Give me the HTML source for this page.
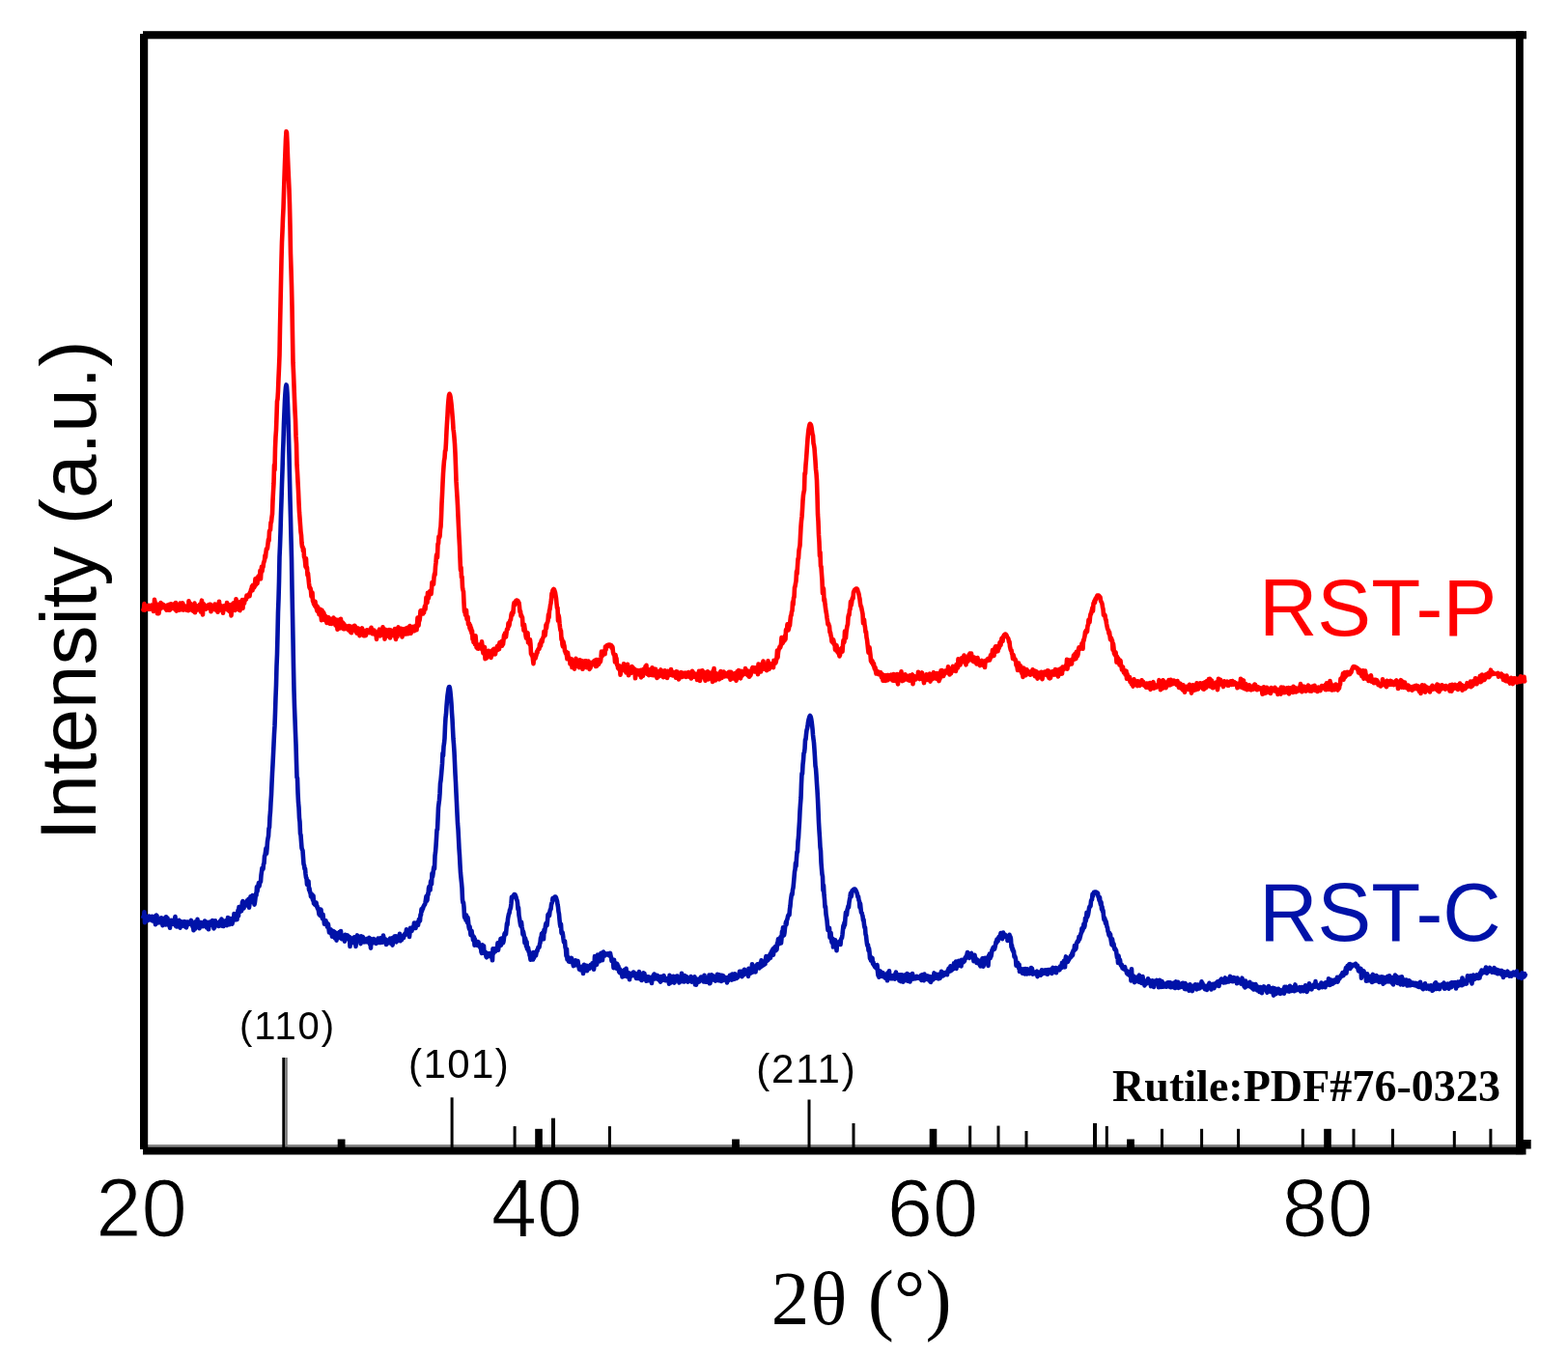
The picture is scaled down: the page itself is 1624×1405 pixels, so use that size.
<!DOCTYPE html>
<html><head><meta charset="utf-8"><title>XRD</title>
<style>html,body{margin:0;padding:0;background:#fff;width:1624px;height:1405px;overflow:hidden}svg{display:block}</style>
</head><body>
<svg width="1624" height="1405" viewBox="0 0 1624 1405">
<rect width="1624" height="1405" fill="#fff"/>
<rect x="148" y="1185" width="1432" height="2.6" fill="#888"/>
<rect x="292.3" y="1095.0" width="3.1" height="93.0" fill="#000"/>
<rect x="466.6" y="1136.3" width="3.0" height="51.7" fill="#000"/>
<rect x="531.6" y="1166.1" width="3.0" height="21.9" fill="#000"/>
<rect x="571.0" y="1157.7" width="4.0" height="30.3" fill="#000"/>
<rect x="629.9" y="1166.1" width="3.0" height="21.9" fill="#000"/>
<rect x="836.5" y="1138.5" width="3.0" height="49.5" fill="#000"/>
<rect x="882.5" y="1163.0" width="3.0" height="25.0" fill="#000"/>
<rect x="1003.2" y="1165.6" width="3.0" height="22.4" fill="#000"/>
<rect x="1032.5" y="1165.6" width="3.0" height="22.4" fill="#000"/>
<rect x="1061.5" y="1171.0" width="3.0" height="17.0" fill="#000"/>
<rect x="1132.0" y="1162.9" width="4.0" height="25.1" fill="#000"/>
<rect x="1144.8" y="1165.9" width="3.0" height="22.1" fill="#000"/>
<rect x="1202.0" y="1168.8" width="3.0" height="19.2" fill="#000"/>
<rect x="1243.1" y="1168.8" width="3.0" height="19.2" fill="#000"/>
<rect x="1281.1" y="1168.8" width="3.0" height="19.2" fill="#000"/>
<rect x="1347.8" y="1168.8" width="3.0" height="19.2" fill="#000"/>
<rect x="1400.5" y="1168.8" width="3.0" height="19.2" fill="#000"/>
<rect x="1440.9" y="1168.8" width="3.0" height="19.2" fill="#000"/>
<rect x="1504.8" y="1171.0" width="3.0" height="17.0" fill="#000"/>
<rect x="1542.4" y="1168.8" width="3.0" height="19.2" fill="#000"/>
<rect x="554.2" y="1168.8" width="7.6" height="20" fill="#000"/>
<rect x="962.7" y="1168.8" width="7.6" height="20" fill="#000"/>
<rect x="1371.2" y="1168.8" width="7.6" height="20" fill="#000"/>
<rect x="349.7" y="1179.5" width="7.8" height="9" fill="#000"/>
<rect x="758.1" y="1179.5" width="7.8" height="9" fill="#000"/>
<rect x="1167.1" y="1179.5" width="7.8" height="9" fill="#000"/>
<rect x="295.4" y="1095" width="2.4" height="93" fill="#7a7a7a"/>
<rect x="1577" y="1180" width="8.7" height="9.5" fill="#000"/>
<rect x="145" y="35" width="8.2" height="1155" fill="#000"/>
<rect x="148" y="32.2" width="1433" height="8.1" fill="#000"/>
<rect x="1570" y="32.2" width="7.8" height="1163" fill="#000"/>
<rect x="148" y="1187.5" width="1432.5" height="8" fill="#000"/>
<path d="M148.0 630.0L148.5 631.5L149.0 630.0L149.5 625.1L150.0 631.7L150.5 630.3L151.0 627.4L151.5 630.7L152.0 630.1L152.5 629.9L153.0 629.1L153.5 630.6L154.0 626.8L154.5 628.5L155.0 627.6L155.5 630.8L156.0 629.1L156.5 628.1L157.0 626.7L157.5 628.2L158.0 629.0L158.5 628.2L159.0 632.9L159.5 632.0L160.0 620.9L160.5 623.3L161.0 628.5L161.5 627.7L162.0 629.6L162.5 629.6L163.0 635.3L163.5 625.7L164.0 627.9L164.5 635.1L165.0 630.9L165.5 631.0L166.0 627.5L166.5 624.1L167.0 629.5L167.5 629.3L168.0 625.3L168.5 627.0L169.0 628.8L169.5 626.2L170.0 628.7L170.5 629.3L171.0 629.1L171.5 627.5L172.0 630.8L172.5 631.7L173.0 630.0L173.5 626.6L174.0 631.2L174.5 627.5L175.0 631.6L175.5 625.8L176.0 631.7L176.5 628.9L177.0 625.3L177.5 628.1L178.0 629.2L178.5 629.8L179.0 626.1L179.5 625.7L180.0 629.6L180.5 627.6L181.0 629.7L181.5 631.3L182.0 624.1L182.5 629.8L183.0 632.6L183.5 628.1L184.0 626.6L184.5 631.2L185.0 629.8L185.5 631.7L186.0 628.0L186.5 624.6L187.0 628.7L187.5 627.7L188.0 631.3L188.5 629.6L189.0 624.2L189.5 625.4L190.0 631.6L190.5 631.0L191.0 627.1L191.5 629.0L192.0 630.3L192.5 630.4L193.0 631.6L193.5 629.8L194.0 628.7L194.5 628.2L195.0 632.1L195.5 622.3L196.0 628.6L196.5 629.1L197.0 624.8L197.5 630.0L198.0 627.1L198.5 631.6L199.0 628.6L199.5 631.0L200.0 632.6L200.5 630.1L201.0 626.4L201.5 624.5L202.0 634.2L202.5 628.7L203.0 627.0L203.5 629.4L204.0 628.4L204.5 631.5L205.0 629.1L205.5 629.0L206.0 626.9L206.5 630.4L207.0 625.9L207.5 631.0L208.0 633.5L208.5 624.5L209.0 621.7L209.5 630.8L210.0 636.5L210.5 626.0L211.0 625.3L211.5 630.7L212.0 626.5L212.5 627.5L213.0 628.0L213.5 630.6L214.0 627.8L214.5 629.8L215.0 628.5L215.5 626.5L216.0 628.1L216.5 626.2L217.0 629.0L217.5 625.7L218.0 625.8L218.5 633.3L219.0 628.8L219.5 628.8L220.0 630.5L220.5 627.8L221.0 628.3L221.5 630.3L222.0 629.8L222.5 625.6L223.0 631.5L223.5 627.3L224.0 625.9L224.5 626.3L225.0 627.8L225.5 633.8L226.0 625.5L226.5 629.5L227.0 622.7L227.5 629.0L228.0 631.6L228.5 628.3L229.0 627.1L229.5 629.7L230.0 631.1L230.5 631.0L231.0 634.8L231.5 629.6L232.0 627.3L232.5 628.6L233.0 628.8L233.5 629.3L234.0 628.9L234.5 629.5L235.0 624.1L235.5 631.4L236.0 627.3L236.5 625.6L237.0 630.9L237.5 632.9L238.0 630.4L238.5 629.5L239.0 626.3L239.5 637.4L240.0 631.6L240.5 625.6L241.0 626.7L241.5 629.1L242.0 624.3L242.5 629.2L243.0 627.2L243.5 632.0L244.0 631.1L244.5 620.2L245.0 628.0L245.5 623.0L246.0 630.7L246.5 627.8L247.0 628.6L247.5 623.6L248.0 631.8L248.5 632.1L249.0 622.8L249.5 626.7L250.0 623.3L250.5 624.9L251.0 621.0L251.5 629.8L252.0 621.2L252.5 622.8L253.0 624.7L253.5 620.8L254.0 621.4L254.5 619.8L255.0 620.4L255.5 616.6L256.0 618.0L256.5 617.9L257.0 616.7L257.5 617.0L258.0 615.1L258.5 617.2L259.0 613.2L259.5 612.9L260.0 610.4L260.5 610.0L261.0 607.0L261.5 611.3L262.0 605.7L262.5 606.0L263.0 608.5L263.5 607.9L264.0 604.8L264.5 599.3L265.0 605.6L265.5 604.4L266.0 598.6L266.5 604.1L267.0 598.9L267.5 596.7L268.0 599.3L268.5 597.4L269.0 597.3L269.5 590.8L270.0 599.4L270.5 591.0L271.0 586.8L271.5 591.5L272.0 587.0L272.5 587.1L273.0 583.0L273.5 581.5L274.0 580.1L274.5 575.0L275.0 577.0L275.5 571.6L276.0 568.2L276.5 568.7L277.0 567.4L277.5 562.9L278.0 558.5L278.5 560.0L279.0 550.1L279.5 549.0L280.0 548.6L280.5 540.8L281.0 540.6L281.5 535.5L282.0 532.3L282.5 518.6L283.0 509.0L283.5 500.5L284.0 481.6L284.5 486.6L285.0 464.1L285.5 452.3L286.0 445.3L286.5 431.3L287.0 415.6L287.5 413.3L288.0 405.1L288.5 391.7L289.0 380.6L289.5 367.9L290.0 339.2L290.5 316.2L291.0 292.6L291.5 269.3L292.0 250.6L292.5 239.3L293.0 225.8L293.5 215.9L294.0 199.8L294.5 184.6L295.0 170.1L295.5 156.8L296.0 143.9L296.5 136.1L297.0 137.5L297.5 148.0L298.0 162.1L298.5 174.4L299.0 184.9L299.5 196.3L300.0 211.9L300.5 234.3L301.0 262.8L301.5 278.2L302.0 295.4L302.5 317.4L303.0 347.9L303.5 375.7L304.0 386.4L304.5 399.4L305.0 412.6L305.5 425.1L306.0 434.2L306.5 451.4L307.0 459.7L307.5 481.2L308.0 489.1L308.5 498.8L309.0 508.5L309.5 520.2L310.0 530.3L310.5 536.4L311.0 543.3L311.5 550.6L312.0 554.0L312.5 562.1L313.0 566.1L313.5 566.1L314.0 570.6L314.5 568.3L315.0 576.7L315.5 577.3L316.0 581.2L316.5 586.9L317.0 578.3L317.5 588.5L318.0 587.6L318.5 595.6L319.0 593.4L319.5 598.9L320.0 604.0L320.5 608.1L321.0 609.2L321.5 609.0L322.0 611.7L322.5 617.6L323.0 616.8L323.5 613.6L324.0 622.4L324.5 622.6L325.0 625.2L325.5 622.9L326.0 627.3L326.5 622.9L327.0 628.6L327.5 626.5L328.0 630.7L328.5 632.6L329.0 628.4L329.5 631.2L330.0 632.3L330.5 636.3L331.0 635.6L331.5 630.8L332.0 636.2L332.5 637.7L333.0 642.2L333.5 631.8L334.0 635.6L334.5 641.4L335.0 634.1L335.5 635.0L336.0 640.3L336.5 642.2L337.0 637.7L337.5 641.5L338.0 640.7L338.5 645.0L339.0 641.0L339.5 644.2L340.0 639.1L340.5 641.4L341.0 642.0L341.5 645.8L342.0 644.5L342.5 640.9L343.0 645.3L343.5 645.8L344.0 643.5L344.5 643.3L345.0 643.7L345.5 639.6L346.0 645.3L346.5 645.6L347.0 642.7L347.5 647.5L348.0 641.6L348.5 644.2L349.0 644.6L349.5 651.8L350.0 641.7L350.5 648.1L351.0 649.4L351.5 647.9L352.0 650.4L352.5 644.3L353.0 640.8L353.5 649.7L354.0 644.3L354.5 646.9L355.0 644.6L355.5 651.1L356.0 650.7L356.5 646.4L357.0 651.1L357.5 649.1L358.0 648.4L358.5 649.1L359.0 648.5L359.5 651.0L360.0 650.3L360.5 648.5L361.0 652.5L361.5 648.0L362.0 650.7L362.5 651.2L363.0 654.3L363.5 648.8L364.0 655.3L364.5 651.0L365.0 650.0L365.5 648.8L366.0 652.5L366.5 651.0L367.0 647.9L367.5 647.9L368.0 649.6L368.5 649.4L369.0 654.5L369.5 655.5L370.0 654.1L370.5 652.8L371.0 650.6L371.5 652.1L372.0 654.6L372.5 658.2L373.0 654.8L373.5 651.5L374.0 652.5L374.5 651.2L375.0 650.4L375.5 652.2L376.0 653.4L376.5 658.1L377.0 653.1L377.5 656.9L378.0 658.2L378.5 653.5L379.0 657.9L379.5 655.4L380.0 652.3L380.5 654.3L381.0 653.7L381.5 653.0L382.0 653.2L382.5 654.3L383.0 655.1L383.5 651.5L384.0 654.0L384.5 649.8L385.0 654.9L385.5 656.0L386.0 654.7L386.5 655.1L387.0 656.1L387.5 652.6L388.0 653.8L388.5 656.0L389.0 657.4L389.5 655.8L390.0 661.9L390.5 654.5L391.0 657.7L391.5 658.5L392.0 654.6L392.5 652.7L393.0 651.7L393.5 655.6L394.0 658.3L394.5 656.0L395.0 655.7L395.5 654.2L396.0 656.9L396.5 649.4L397.0 656.1L397.5 655.5L398.0 651.6L398.5 661.7L399.0 651.7L399.5 652.6L400.0 652.3L400.5 658.8L401.0 653.2L401.5 657.6L402.0 657.4L402.5 656.5L403.0 652.1L403.5 654.1L404.0 660.5L404.5 652.2L405.0 653.5L405.5 655.3L406.0 658.1L406.5 656.5L407.0 657.8L407.5 652.7L408.0 658.3L408.5 657.2L409.0 651.1L409.5 659.8L410.0 661.9L410.5 653.2L411.0 655.5L411.5 659.2L412.0 651.0L412.5 649.4L413.0 651.3L413.5 653.3L414.0 653.1L414.5 656.4L415.0 655.3L415.5 650.9L416.0 655.9L416.5 659.5L417.0 657.5L417.5 656.8L418.0 654.0L418.5 656.6L419.0 651.0L419.5 655.7L420.0 653.2L420.5 656.5L421.0 654.5L421.5 650.1L422.0 653.4L422.5 656.3L423.0 649.6L423.5 651.1L424.0 650.3L424.5 648.1L425.0 654.9L425.5 655.7L426.0 654.1L426.5 652.3L427.0 651.3L427.5 651.9L428.0 648.9L428.5 653.2L429.0 653.3L429.5 652.7L430.0 648.2L430.5 649.2L431.0 647.7L431.5 652.2L432.0 646.6L432.5 639.6L433.0 644.8L433.5 647.7L434.0 643.1L434.5 642.5L435.0 639.1L435.5 632.5L436.0 632.1L436.5 632.8L437.0 635.0L437.5 635.4L438.0 635.5L438.5 631.7L439.0 634.4L439.5 629.9L440.0 627.6L440.5 630.8L441.0 624.7L441.5 618.5L442.0 621.9L442.5 623.9L443.0 613.7L443.5 620.0L444.0 618.6L444.5 614.1L445.0 612.4L445.5 613.6L446.0 611.7L446.5 614.9L447.0 610.5L447.5 603.0L448.0 602.7L448.5 604.4L449.0 604.8L449.5 597.6L450.0 594.1L450.5 595.2L451.0 586.6L451.5 582.2L452.0 575.2L452.5 573.7L453.0 577.1L453.5 563.0L454.0 563.0L454.5 555.5L455.0 556.6L455.5 555.4L456.0 548.1L456.5 545.3L457.0 535.3L457.5 521.6L458.0 512.4L458.5 500.6L459.0 490.5L459.5 483.1L460.0 476.9L460.5 474.3L461.0 467.0L461.5 466.4L462.0 457.6L462.5 446.5L463.0 437.6L463.5 430.0L464.0 420.1L464.5 414.0L465.0 409.5L465.5 407.8L466.0 408.5L466.5 410.5L467.0 414.1L467.5 418.2L468.0 423.6L468.5 429.8L469.0 435.5L469.5 444.2L470.0 447.8L470.5 453.1L471.0 459.6L471.5 469.4L472.0 482.9L472.5 498.2L473.0 506.3L473.5 514.4L474.0 523.3L474.5 535.0L475.0 545.6L475.5 556.1L476.0 564.9L476.5 577.8L477.0 590.1L477.5 587.4L478.0 597.8L478.5 597.2L479.0 608.2L479.5 610.8L480.0 612.6L480.5 624.0L481.0 633.1L481.5 631.4L482.0 636.7L482.5 635.5L483.0 631.8L483.5 640.9L484.0 640.0L484.5 638.6L485.0 646.3L485.5 646.3L486.0 645.4L486.5 650.6L487.0 647.2L487.5 652.9L488.0 650.1L488.5 655.8L489.0 653.0L489.5 661.8L490.0 660.1L490.5 664.9L491.0 660.2L491.5 662.5L492.0 667.2L492.5 658.3L493.0 663.7L493.5 670.2L494.0 669.3L494.5 671.5L495.0 668.6L495.5 671.7L496.0 668.8L496.5 667.6L497.0 667.3L497.5 671.1L498.0 671.6L498.5 671.9L499.0 664.4L499.5 669.1L500.0 673.6L500.5 676.2L501.0 674.2L501.5 673.7L502.0 670.0L502.5 682.1L503.0 673.7L503.5 681.5L504.0 681.3L504.5 677.8L505.0 675.4L505.5 677.3L506.0 673.7L506.5 677.5L507.0 676.7L507.5 678.0L508.0 679.0L508.5 681.0L509.0 674.9L509.5 678.6L510.0 673.4L510.5 672.8L511.0 673.3L511.5 672.0L512.0 677.1L512.5 676.6L513.0 677.2L513.5 673.3L514.0 673.7L514.5 671.0L515.0 669.0L515.5 673.0L516.0 672.1L516.5 667.9L517.0 672.1L517.5 665.2L518.0 668.9L518.5 667.0L519.0 666.4L519.5 664.0L520.0 668.6L520.5 666.5L521.0 667.1L521.5 663.0L522.0 657.9L522.5 659.2L523.0 655.6L523.5 658.8L524.0 659.5L524.5 655.7L525.0 651.8L525.5 651.0L526.0 651.2L526.5 645.3L527.0 648.4L527.5 647.1L528.0 643.4L528.5 641.9L529.0 641.6L529.5 636.9L530.0 634.8L530.5 636.8L531.0 633.3L531.5 634.5L532.0 626.9L532.5 624.1L533.0 626.6L533.5 624.9L534.0 622.5L534.5 621.8L535.0 621.6L535.5 621.5L536.0 621.9L536.5 622.2L537.0 624.2L537.5 624.0L538.0 628.1L538.5 633.5L539.0 632.8L539.5 637.7L540.0 636.9L540.5 638.6L541.0 639.1L541.5 647.8L542.0 646.6L542.5 652.7L543.0 646.7L543.5 650.7L544.0 653.0L544.5 658.1L545.0 660.6L545.5 655.3L546.0 655.5L546.5 655.3L547.0 665.2L547.5 663.0L548.0 663.2L548.5 666.9L549.0 662.4L549.5 667.1L550.0 676.8L550.5 677.7L551.0 679.1L551.5 677.7L552.0 683.3L552.5 687.1L553.0 679.0L553.5 682.0L554.0 680.3L554.5 681.7L555.0 679.7L555.5 678.2L556.0 674.9L556.5 675.9L557.0 672.8L557.5 672.6L558.0 671.3L558.5 671.8L559.0 667.0L559.5 666.3L560.0 668.8L560.5 664.0L561.0 662.7L561.5 664.5L562.0 661.7L562.5 660.0L563.0 659.1L563.5 653.8L564.0 657.0L564.5 657.9L565.0 654.4L565.5 647.0L566.0 650.3L566.5 645.3L567.0 644.7L567.5 642.9L568.0 636.3L568.5 639.4L569.0 632.3L569.5 630.7L570.0 626.7L570.5 624.4L571.0 620.6L571.5 614.5L572.0 613.7L572.5 611.1L573.0 610.5L573.5 610.0L574.0 610.4L574.5 611.9L575.0 613.4L575.5 616.5L576.0 619.5L576.5 624.9L577.0 629.6L577.5 629.4L578.0 642.7L578.5 636.9L579.0 639.2L579.5 645.3L580.0 649.5L580.5 652.7L581.0 653.1L581.5 662.1L582.0 661.1L582.5 667.5L583.0 669.3L583.5 664.3L584.0 667.1L584.5 668.9L585.0 674.0L585.5 674.9L586.0 676.7L586.5 674.8L587.0 678.9L587.5 682.3L588.0 675.7L588.5 679.5L589.0 681.4L589.5 681.1L590.0 681.6L590.5 687.5L591.0 686.8L591.5 686.2L592.0 682.4L592.5 691.0L593.0 686.4L593.5 684.3L594.0 685.3L594.5 685.3L595.0 692.6L595.5 687.8L596.0 687.6L596.5 681.9L597.0 689.8L597.5 685.1L598.0 684.9L598.5 689.6L599.0 685.6L599.5 690.2L600.0 691.0L600.5 683.2L601.0 687.6L601.5 683.7L602.0 687.8L602.5 690.4L603.0 684.3L603.5 692.8L604.0 687.1L604.5 684.8L605.0 687.6L605.5 690.1L606.0 684.3L606.5 688.0L607.0 684.3L607.5 691.2L608.0 688.4L608.5 686.8L609.0 690.7L609.5 684.5L610.0 686.9L610.5 692.9L611.0 687.6L611.5 691.6L612.0 688.5L612.5 686.1L613.0 687.3L613.5 688.2L614.0 686.8L614.5 685.7L615.0 685.9L615.5 684.0L616.0 688.2L616.5 689.0L617.0 689.9L617.5 683.0L618.0 689.8L618.5 687.3L619.0 683.0L619.5 686.5L620.0 687.8L620.5 686.2L621.0 685.9L621.5 685.6L622.0 684.5L622.5 681.0L623.0 674.5L623.5 677.0L624.0 678.9L624.5 675.6L625.0 677.6L625.5 676.8L626.0 673.8L626.5 677.3L627.0 669.5L627.5 672.8L628.0 669.3L628.5 668.3L629.0 669.5L629.5 667.8L630.0 668.2L630.5 667.5L631.0 667.5L631.5 667.5L632.0 667.8L632.5 668.2L633.0 668.1L633.5 670.7L634.0 669.1L634.5 670.4L635.0 675.4L635.5 677.2L636.0 678.1L636.5 678.9L637.0 685.5L637.5 678.1L638.0 680.9L638.5 681.7L639.0 688.2L639.5 688.0L640.0 691.5L640.5 692.3L641.0 690.2L641.5 689.5L642.0 689.7L642.5 698.6L643.0 695.6L643.5 694.7L644.0 692.4L644.5 692.9L645.0 692.6L645.5 692.8L646.0 687.4L646.5 693.7L647.0 693.0L647.5 694.8L648.0 694.7L648.5 696.5L649.0 694.3L649.5 696.6L650.0 687.8L650.5 691.7L651.0 699.3L651.5 691.6L652.0 694.1L652.5 696.8L653.0 692.7L653.5 697.0L654.0 691.4L654.5 690.1L655.0 691.7L655.5 691.0L656.0 695.3L656.5 694.6L657.0 696.4L657.5 692.8L658.0 702.3L658.5 695.4L659.0 695.6L659.5 696.9L660.0 695.1L660.5 694.1L661.0 696.1L661.5 698.3L662.0 697.7L662.5 698.4L663.0 694.5L663.5 694.0L664.0 701.4L664.5 695.5L665.0 697.4L665.5 698.1L666.0 699.9L666.5 692.7L667.0 695.0L667.5 695.1L668.0 695.5L668.5 690.0L669.0 696.1L669.5 688.8L670.0 697.2L670.5 697.9L671.0 698.1L671.5 693.4L672.0 699.1L672.5 694.3L673.0 693.4L673.5 694.1L674.0 694.4L674.5 697.1L675.0 698.9L675.5 691.2L676.0 695.3L676.5 699.2L677.0 697.3L677.5 698.2L678.0 692.9L678.5 699.4L679.0 692.8L679.5 697.4L680.0 700.5L680.5 701.9L681.0 698.3L681.5 699.3L682.0 695.4L682.5 695.8L683.0 700.1L683.5 697.1L684.0 696.7L684.5 693.4L685.0 697.5L685.5 698.8L686.0 695.1L686.5 695.8L687.0 701.3L687.5 697.7L688.0 696.5L688.5 694.3L689.0 695.6L689.5 696.6L690.0 700.9L690.5 695.7L691.0 702.0L691.5 694.9L692.0 696.4L692.5 699.6L693.0 696.8L693.5 695.3L694.0 697.1L694.5 698.7L695.0 693.0L695.5 696.9L696.0 697.3L696.5 696.5L697.0 699.5L697.5 696.1L698.0 696.7L698.5 697.8L699.0 699.6L699.5 697.2L700.0 701.7L700.5 695.4L701.0 701.2L701.5 695.6L702.0 697.5L702.5 698.9L703.0 703.4L703.5 700.4L704.0 697.0L704.5 701.5L705.0 697.6L705.5 696.1L706.0 699.4L706.5 698.5L707.0 700.8L707.5 696.9L708.0 699.4L708.5 700.1L709.0 699.2L709.5 698.4L710.0 696.7L710.5 700.9L711.0 698.9L711.5 699.9L712.0 697.7L712.5 698.7L713.0 696.0L713.5 699.0L714.0 700.8L714.5 699.1L715.0 701.1L715.5 699.7L716.0 702.5L716.5 698.5L717.0 694.7L717.5 700.2L718.0 698.6L718.5 696.6L719.0 700.8L719.5 699.8L720.0 700.3L720.5 698.3L721.0 699.7L721.5 699.9L722.0 703.9L722.5 697.5L723.0 699.3L723.5 700.3L724.0 694.9L724.5 695.2L725.0 705.0L725.5 694.8L726.0 700.9L726.5 697.2L727.0 697.5L727.5 694.3L728.0 697.1L728.5 701.5L729.0 695.9L729.5 701.0L730.0 700.3L730.5 704.7L731.0 698.3L731.5 702.8L732.0 701.8L732.5 698.8L733.0 695.2L733.5 703.4L734.0 696.0L734.5 698.3L735.0 701.8L735.5 702.4L736.0 697.3L736.5 699.4L737.0 698.8L737.5 702.5L738.0 705.9L738.5 694.7L739.0 701.8L739.5 692.0L740.0 699.4L740.5 696.5L741.0 704.5L741.5 699.8L742.0 697.5L742.5 698.1L743.0 697.9L743.5 699.8L744.0 698.9L744.5 701.0L745.0 703.3L745.5 701.1L746.0 696.1L746.5 695.1L747.0 697.3L747.5 701.9L748.0 698.3L748.5 697.5L749.0 699.5L749.5 695.5L750.0 696.2L750.5 700.4L751.0 698.3L751.5 697.9L752.0 699.9L752.5 697.5L753.0 697.2L753.5 697.8L754.0 700.5L754.5 699.1L755.0 695.8L755.5 698.1L756.0 700.5L756.5 703.7L757.0 695.9L757.5 699.7L758.0 698.1L758.5 700.9L759.0 699.9L759.5 702.5L760.0 700.0L760.5 697.2L761.0 697.2L761.5 699.6L762.0 699.6L762.5 704.7L763.0 702.8L763.5 695.4L764.0 699.3L764.5 695.0L765.0 694.1L765.5 700.2L766.0 699.7L766.5 695.6L767.0 702.4L767.5 695.6L768.0 695.0L768.5 699.6L769.0 698.4L769.5 697.3L770.0 697.4L770.5 698.0L771.0 696.9L771.5 696.6L772.0 692.1L772.5 693.3L773.0 698.1L773.5 694.6L774.0 697.6L774.5 699.2L775.0 694.9L775.5 696.3L776.0 700.7L776.5 697.0L777.0 699.7L777.5 698.7L778.0 696.5L778.5 694.1L779.0 692.0L779.5 691.1L780.0 695.0L780.5 694.7L781.0 692.8L781.5 695.3L782.0 691.4L782.5 695.5L783.0 692.6L783.5 692.2L784.0 692.2L784.5 691.7L785.0 698.2L785.5 687.6L786.0 692.0L786.5 694.6L787.0 693.1L787.5 690.4L788.0 695.5L788.5 688.2L789.0 687.5L789.5 692.2L790.0 686.9L790.5 684.5L791.0 692.7L791.5 692.3L792.0 692.1L792.5 688.9L793.0 690.5L793.5 687.5L794.0 694.2L794.5 691.7L795.0 691.4L795.5 684.4L796.0 691.3L796.5 692.9L797.0 692.0L797.5 690.7L798.0 688.5L798.5 687.4L799.0 689.6L799.5 688.8L800.0 688.1L800.5 686.5L801.0 691.2L801.5 683.7L802.0 686.1L802.5 683.8L803.0 686.6L803.5 686.1L804.0 683.8L804.5 680.8L805.0 673.5L805.5 680.7L806.0 675.3L806.5 672.5L807.0 671.7L807.5 669.7L808.0 670.6L808.5 669.4L809.0 666.7L809.5 660.1L810.0 665.6L810.5 666.0L811.0 665.1L811.5 662.4L812.0 662.9L812.5 663.3L813.0 658.3L813.5 662.0L814.0 652.0L814.5 652.4L815.0 651.9L815.5 646.4L816.0 648.5L816.5 652.4L817.0 650.6L817.5 645.8L818.0 647.9L818.5 642.0L819.0 637.8L819.5 637.1L820.0 633.3L820.5 632.4L821.0 623.4L821.5 626.2L822.0 618.9L822.5 618.4L823.0 608.4L823.5 607.1L824.0 604.0L824.5 601.6L825.0 591.6L825.5 594.1L826.0 586.2L826.5 578.7L827.0 578.0L827.5 569.9L828.0 567.3L828.5 564.7L829.0 554.8L829.5 545.3L830.0 539.1L830.5 535.0L831.0 527.7L831.5 518.4L832.0 512.5L832.5 509.6L833.0 507.4L833.5 490.1L834.0 490.3L834.5 481.5L835.0 476.0L835.5 469.0L836.0 461.3L836.5 454.3L837.0 449.0L837.5 444.6L838.0 442.0L838.5 439.6L839.0 438.8L839.5 439.2L840.0 440.3L840.5 442.6L841.0 446.0L841.5 449.5L842.0 450.9L842.5 459.0L843.0 460.9L843.5 464.2L844.0 471.0L844.5 477.5L845.0 486.0L845.5 490.2L846.0 497.5L846.5 513.0L847.0 532.7L847.5 540.1L848.0 553.9L848.5 561.3L849.0 575.7L849.5 571.7L850.0 586.1L850.5 586.5L851.0 594.2L851.5 600.9L852.0 614.1L852.5 608.6L853.0 609.9L853.5 621.9L854.0 620.3L854.5 625.4L855.0 629.4L855.5 633.0L856.0 635.5L856.5 639.5L857.0 642.6L857.5 646.4L858.0 645.6L858.5 647.1L859.0 648.4L859.5 654.5L860.0 654.7L860.5 657.9L861.0 659.7L861.5 664.3L862.0 662.3L862.5 665.4L863.0 662.2L863.5 664.1L864.0 667.5L864.5 666.7L865.0 672.8L865.5 668.9L866.0 673.6L866.5 668.2L867.0 672.5L867.5 675.1L868.0 675.8L868.5 672.3L869.0 677.3L869.5 679.4L870.0 678.2L870.5 674.3L871.0 673.6L871.5 671.0L872.0 674.1L872.5 674.6L873.0 667.9L873.5 663.0L874.0 665.5L874.5 664.5L875.0 653.5L875.5 658.1L876.0 660.6L876.5 654.5L877.0 651.1L877.5 647.9L878.0 646.7L878.5 638.9L879.0 636.4L879.5 636.7L880.0 631.2L880.5 630.9L881.0 623.0L881.5 627.0L882.0 624.8L882.5 620.7L883.0 618.8L883.5 619.7L884.0 613.1L884.5 612.2L885.0 611.0L885.5 610.8L886.0 609.9L886.5 609.7L887.0 609.5L887.5 609.6L888.0 610.1L888.5 612.3L889.0 613.3L889.5 615.2L890.0 617.9L890.5 620.3L891.0 624.9L891.5 627.6L892.0 628.1L892.5 630.7L893.0 633.1L893.5 635.7L894.0 645.1L894.5 642.0L895.0 641.7L895.5 646.9L896.0 649.4L896.5 654.6L897.0 654.0L897.5 660.0L898.0 662.2L898.5 666.8L899.0 671.5L899.5 675.6L900.0 674.3L900.5 670.4L901.0 674.4L901.5 678.1L902.0 684.6L902.5 683.0L903.0 686.0L903.5 684.1L904.0 687.4L904.5 688.8L905.0 687.0L905.5 691.2L906.0 693.0L906.5 691.0L907.0 695.0L907.5 697.5L908.0 694.6L908.5 695.3L909.0 695.4L909.5 695.5L910.0 698.1L910.5 697.4L911.0 698.2L911.5 697.6L912.0 696.2L912.5 698.0L913.0 701.4L913.5 697.8L914.0 699.1L914.5 704.8L915.0 703.6L915.5 699.1L916.0 702.3L916.5 699.3L917.0 704.9L917.5 699.5L918.0 701.2L918.5 704.4L919.0 699.0L919.5 704.3L920.0 699.1L920.5 701.7L921.0 700.4L921.5 700.9L922.0 701.6L922.5 701.0L923.0 698.7L923.5 703.4L924.0 703.0L924.5 704.5L925.0 704.7L925.5 698.0L926.0 704.5L926.5 704.6L927.0 700.1L927.5 704.0L928.0 705.0L928.5 700.1L929.0 698.1L929.5 700.6L930.0 708.4L930.5 702.1L931.0 698.6L931.5 700.9L932.0 699.1L932.5 700.6L933.0 701.8L933.5 695.3L934.0 702.5L934.5 705.1L935.0 701.2L935.5 700.7L936.0 704.4L936.5 698.6L937.0 698.6L937.5 698.3L938.0 701.3L938.5 702.7L939.0 701.5L939.5 703.1L940.0 703.8L940.5 703.0L941.0 699.8L941.5 701.1L942.0 704.8L942.5 699.2L943.0 701.2L943.5 700.8L944.0 701.4L944.5 699.2L945.0 698.5L945.5 708.1L946.0 704.2L946.5 700.1L947.0 701.7L947.5 703.5L948.0 701.0L948.5 703.4L949.0 700.4L949.5 701.0L950.0 701.7L950.5 700.8L951.0 695.9L951.5 701.9L952.0 702.5L952.5 703.1L953.0 699.5L953.5 702.7L954.0 702.4L954.5 697.6L955.0 696.5L955.5 703.1L956.0 699.6L956.5 704.3L957.0 707.1L957.5 700.5L958.0 700.2L958.5 701.8L959.0 703.1L959.5 698.4L960.0 704.0L960.5 703.3L961.0 702.4L961.5 699.4L962.0 702.9L962.5 702.7L963.0 697.6L963.5 705.6L964.0 699.7L964.5 701.3L965.0 699.1L965.5 701.3L966.0 703.1L966.5 698.3L967.0 696.2L967.5 699.1L968.0 696.9L968.5 698.2L969.0 699.6L969.5 699.7L970.0 702.8L970.5 697.1L971.0 700.3L971.5 698.1L972.0 702.5L972.5 705.1L973.0 699.6L973.5 702.7L974.0 697.2L974.5 694.4L975.0 695.1L975.5 694.1L976.0 695.4L976.5 696.9L977.0 700.1L977.5 698.8L978.0 698.0L978.5 695.7L979.0 694.7L979.5 696.3L980.0 696.3L980.5 696.4L981.0 696.5L981.5 695.0L982.0 690.4L982.5 692.2L983.0 692.6L983.5 698.5L984.0 693.1L984.5 695.5L985.0 697.2L985.5 694.1L986.0 692.0L986.5 692.0L987.0 689.9L987.5 692.7L988.0 694.3L988.5 692.6L989.0 692.7L989.5 692.2L990.0 694.9L990.5 688.1L991.0 689.6L991.5 690.5L992.0 691.4L992.5 682.2L993.0 686.3L993.5 686.7L994.0 684.3L994.5 688.4L995.0 686.5L995.5 684.6L996.0 681.3L996.5 681.6L997.0 682.1L997.5 685.2L998.0 680.8L998.5 678.5L999.0 679.6L999.5 681.4L1000.0 686.6L1000.5 688.3L1001.0 680.9L1001.5 684.1L1002.0 685.0L1002.5 684.6L1003.0 681.1L1003.5 678.1L1004.0 679.9L1004.5 676.6L1005.0 681.6L1005.5 682.9L1006.0 676.5L1006.5 681.0L1007.0 682.0L1007.5 684.4L1008.0 684.9L1008.5 683.8L1009.0 680.5L1009.5 681.5L1010.0 685.6L1010.5 681.6L1011.0 683.3L1011.5 687.5L1012.0 684.4L1012.5 681.1L1013.0 684.0L1013.5 686.6L1014.0 684.9L1014.5 688.5L1015.0 689.1L1015.5 684.7L1016.0 685.3L1016.5 686.4L1017.0 683.9L1017.5 687.8L1018.0 686.6L1018.5 688.9L1019.0 685.5L1019.5 684.7L1020.0 691.0L1020.5 684.2L1021.0 684.6L1021.5 683.9L1022.0 684.4L1022.5 682.5L1023.0 684.0L1023.5 681.9L1024.0 681.9L1024.5 683.1L1025.0 683.3L1025.5 682.0L1026.0 678.4L1026.5 680.4L1027.0 678.4L1027.5 677.7L1028.0 673.1L1028.5 678.0L1029.0 675.3L1029.5 679.0L1030.0 675.7L1030.5 670.8L1031.0 669.5L1031.5 674.9L1032.0 669.4L1032.5 672.4L1033.0 669.3L1033.5 674.3L1034.0 668.8L1034.5 671.4L1035.0 670.2L1035.5 665.2L1036.0 664.8L1036.5 667.9L1037.0 663.6L1037.5 660.9L1038.0 663.4L1038.5 663.9L1039.0 659.2L1039.5 659.3L1040.0 657.4L1040.5 657.1L1041.0 656.6L1041.5 656.6L1042.0 657.1L1042.5 657.8L1043.0 659.2L1043.5 660.0L1044.0 660.6L1044.5 661.9L1045.0 665.0L1045.5 664.5L1046.0 669.4L1046.5 671.6L1047.0 673.5L1047.5 673.2L1048.0 676.3L1048.5 677.6L1049.0 682.0L1049.5 678.1L1050.0 680.2L1050.5 681.7L1051.0 683.0L1051.5 682.6L1052.0 683.9L1052.5 688.8L1053.0 685.9L1053.5 690.5L1054.0 694.0L1054.5 693.0L1055.0 686.5L1055.5 693.3L1056.0 693.2L1056.5 694.0L1057.0 689.4L1057.5 695.5L1058.0 691.5L1058.5 697.5L1059.0 697.2L1059.5 700.9L1060.0 694.2L1060.5 691.7L1061.0 697.9L1061.5 697.7L1062.0 694.9L1062.5 699.2L1063.0 697.8L1063.5 693.3L1064.0 695.6L1064.5 695.6L1065.0 696.5L1065.5 697.4L1066.0 695.4L1066.5 696.7L1067.0 698.7L1067.5 697.2L1068.0 696.9L1068.5 696.9L1069.0 697.5L1069.5 693.3L1070.0 698.3L1070.5 695.5L1071.0 698.3L1071.5 694.6L1072.0 700.3L1072.5 698.8L1073.0 695.1L1073.5 698.8L1074.0 696.5L1074.5 702.6L1075.0 699.5L1075.5 696.5L1076.0 698.9L1076.5 698.3L1077.0 701.2L1077.5 699.2L1078.0 699.5L1078.5 695.7L1079.0 700.1L1079.5 703.2L1080.0 699.7L1080.5 698.1L1081.0 698.6L1081.5 695.9L1082.0 698.6L1082.5 695.5L1083.0 698.1L1083.5 697.1L1084.0 696.0L1084.5 699.3L1085.0 694.4L1085.5 697.7L1086.0 694.6L1086.5 702.0L1087.0 702.3L1087.5 699.5L1088.0 701.9L1088.5 698.8L1089.0 698.6L1089.5 696.3L1090.0 695.1L1090.5 697.4L1091.0 695.8L1091.5 696.0L1092.0 698.6L1092.5 696.5L1093.0 693.1L1093.5 696.1L1094.0 694.8L1094.5 695.8L1095.0 693.8L1095.5 699.0L1096.0 700.4L1096.5 693.2L1097.0 697.0L1097.5 696.7L1098.0 692.5L1098.5 694.9L1099.0 697.7L1099.5 696.0L1100.0 697.5L1100.5 690.6L1101.0 691.2L1101.5 693.2L1102.0 692.9L1102.5 691.7L1103.0 690.3L1103.5 689.8L1104.0 688.9L1104.5 690.9L1105.0 682.9L1105.5 692.6L1106.0 687.1L1106.5 684.5L1107.0 688.6L1107.5 683.6L1108.0 687.2L1108.5 684.9L1109.0 686.7L1109.5 686.6L1110.0 687.3L1110.5 682.5L1111.0 682.4L1111.5 682.5L1112.0 678.6L1112.5 682.7L1113.0 680.9L1113.5 676.8L1114.0 682.1L1114.5 681.7L1115.0 674.7L1115.5 678.4L1116.0 679.1L1116.5 677.3L1117.0 672.3L1117.5 670.4L1118.0 672.5L1118.5 670.6L1119.0 670.8L1119.5 669.6L1120.0 670.0L1120.5 666.3L1121.0 666.0L1121.5 671.8L1122.0 663.0L1122.5 663.4L1123.0 660.6L1123.5 658.6L1124.0 654.2L1124.5 655.7L1125.0 652.5L1125.5 652.7L1126.0 653.8L1126.5 647.7L1127.0 647.4L1127.5 641.8L1128.0 642.8L1128.5 644.4L1129.0 639.0L1129.5 635.8L1130.0 635.9L1130.5 633.2L1131.0 631.2L1131.5 629.1L1132.0 632.6L1132.5 624.6L1133.0 624.0L1133.5 622.2L1134.0 624.0L1134.5 620.1L1135.0 620.9L1135.5 618.5L1136.0 617.6L1136.5 616.6L1137.0 616.7L1137.5 616.5L1138.0 616.7L1138.5 617.2L1139.0 618.0L1139.5 618.3L1140.0 621.9L1140.5 622.9L1141.0 623.8L1141.5 625.2L1142.0 628.8L1142.5 630.6L1143.0 636.7L1143.5 637.1L1144.0 636.2L1144.5 637.2L1145.0 641.2L1145.5 641.6L1146.0 645.6L1146.5 648.1L1147.0 650.5L1147.5 651.8L1148.0 652.3L1148.5 656.0L1149.0 654.4L1149.5 658.1L1150.0 662.0L1150.5 662.6L1151.0 660.8L1151.5 662.7L1152.0 663.3L1152.5 672.7L1153.0 666.5L1153.5 671.1L1154.0 676.9L1154.5 676.5L1155.0 678.3L1155.5 675.3L1156.0 679.4L1156.5 685.8L1157.0 679.9L1157.5 682.0L1158.0 681.4L1158.5 683.2L1159.0 685.1L1159.5 688.5L1160.0 684.2L1160.5 684.0L1161.0 688.3L1161.5 689.7L1162.0 693.4L1162.5 692.7L1163.0 690.6L1163.5 694.3L1164.0 696.5L1164.5 695.6L1165.0 695.2L1165.5 698.5L1166.0 697.2L1166.5 694.7L1167.0 702.9L1167.5 697.8L1168.0 700.9L1168.5 701.7L1169.0 702.4L1169.5 703.2L1170.0 701.1L1170.5 706.1L1171.0 705.3L1171.5 705.7L1172.0 708.2L1172.5 708.5L1173.0 709.2L1173.5 710.6L1174.0 707.5L1174.5 703.2L1175.0 707.3L1175.5 707.0L1176.0 707.3L1176.5 705.9L1177.0 705.4L1177.5 709.4L1178.0 710.0L1178.5 705.3L1179.0 709.2L1179.5 707.7L1180.0 707.3L1180.5 709.9L1181.0 708.3L1181.5 707.3L1182.0 708.8L1182.5 704.2L1183.0 707.4L1183.5 707.9L1184.0 705.8L1184.5 709.4L1185.0 709.7L1185.5 707.7L1186.0 708.8L1186.5 710.7L1187.0 711.6L1187.5 707.5L1188.0 710.1L1188.5 711.7L1189.0 709.2L1189.5 707.6L1190.0 707.6L1190.5 708.6L1191.0 707.0L1191.5 713.9L1192.0 708.0L1192.5 710.1L1193.0 709.6L1193.5 710.7L1194.0 708.3L1194.5 706.2L1195.0 712.8L1195.5 708.9L1196.0 709.3L1196.5 709.4L1197.0 711.8L1197.5 710.6L1198.0 711.5L1198.5 710.6L1199.0 709.1L1199.5 709.3L1200.0 706.9L1200.5 704.2L1201.0 708.0L1201.5 706.0L1202.0 714.3L1202.5 711.9L1203.0 710.9L1203.5 707.0L1204.0 712.8L1204.5 704.3L1205.0 705.3L1205.5 706.3L1206.0 705.8L1206.5 708.2L1207.0 708.3L1207.5 712.1L1208.0 710.0L1208.5 710.5L1209.0 708.7L1209.5 707.3L1210.0 706.1L1210.5 704.2L1211.0 705.6L1211.5 706.7L1212.0 709.3L1212.5 703.7L1213.0 704.4L1213.5 708.0L1214.0 705.1L1214.5 708.3L1215.0 706.6L1215.5 705.9L1216.0 704.7L1216.5 707.6L1217.0 706.3L1217.5 706.7L1218.0 706.9L1218.5 708.9L1219.0 709.0L1219.5 705.0L1220.0 708.7L1220.5 710.2L1221.0 711.9L1221.5 711.6L1222.0 710.5L1222.5 707.7L1223.0 708.8L1223.5 712.8L1224.0 709.4L1224.5 713.6L1225.0 714.3L1225.5 709.3L1226.0 712.9L1226.5 711.9L1227.0 716.8L1227.5 714.3L1228.0 711.4L1228.5 713.6L1229.0 710.8L1229.5 712.6L1230.0 713.4L1230.5 713.3L1231.0 713.7L1231.5 711.0L1232.0 708.8L1232.5 712.1L1233.0 710.9L1233.5 711.3L1234.0 717.6L1234.5 715.3L1235.0 712.2L1235.5 709.3L1236.0 709.5L1236.5 713.1L1237.0 714.6L1237.5 711.5L1238.0 712.3L1238.5 712.5L1239.0 714.1L1239.5 707.4L1240.0 711.9L1240.5 712.3L1241.0 713.4L1241.5 712.0L1242.0 708.5L1242.5 709.5L1243.0 707.3L1243.5 711.0L1244.0 710.9L1244.5 711.5L1245.0 708.0L1245.5 707.5L1246.0 713.4L1246.5 710.3L1247.0 713.7L1247.5 710.7L1248.0 706.3L1248.5 711.3L1249.0 712.2L1249.5 708.4L1250.0 705.0L1250.5 710.7L1251.0 708.9L1251.5 709.8L1252.0 703.1L1252.5 710.1L1253.0 702.9L1253.5 707.0L1254.0 710.9L1254.5 704.8L1255.0 704.6L1255.5 707.7L1256.0 712.3L1256.5 712.2L1257.0 707.2L1257.5 710.8L1258.0 709.8L1258.5 709.0L1259.0 709.2L1259.5 706.7L1260.0 710.1L1260.5 710.6L1261.0 714.2L1261.5 710.2L1262.0 702.7L1262.5 705.4L1263.0 708.8L1263.5 708.2L1264.0 703.8L1264.5 707.6L1265.0 707.1L1265.5 707.8L1266.0 707.6L1266.5 709.9L1267.0 711.0L1267.5 709.3L1268.0 705.3L1268.5 705.8L1269.0 706.2L1269.5 707.5L1270.0 706.7L1270.5 706.9L1271.0 705.6L1271.5 709.7L1272.0 709.5L1272.5 709.7L1273.0 707.4L1273.5 708.6L1274.0 705.6L1274.5 705.4L1275.0 706.4L1275.5 708.9L1276.0 707.3L1276.5 705.1L1277.0 707.9L1277.5 708.7L1278.0 708.1L1278.5 706.3L1279.0 708.0L1279.5 707.0L1280.0 707.3L1280.5 707.8L1281.0 709.8L1281.5 712.2L1282.0 711.7L1282.5 709.7L1283.0 707.5L1283.5 707.8L1284.0 708.0L1284.5 711.2L1285.0 702.7L1285.5 709.5L1286.0 704.6L1286.5 709.1L1287.0 712.1L1287.5 707.3L1288.0 704.4L1288.5 712.4L1289.0 713.0L1289.5 710.9L1290.0 712.6L1290.5 708.2L1291.0 712.7L1291.5 714.0L1292.0 711.8L1292.5 711.1L1293.0 713.5L1293.5 713.2L1294.0 709.2L1294.5 714.0L1295.0 712.8L1295.5 711.6L1296.0 714.3L1296.5 713.6L1297.0 713.3L1297.5 710.7L1298.0 713.8L1298.5 709.6L1299.0 711.9L1299.5 708.6L1300.0 708.7L1300.5 713.5L1301.0 712.5L1301.5 713.0L1302.0 714.2L1302.5 713.8L1303.0 711.2L1303.5 713.5L1304.0 713.3L1304.5 712.4L1305.0 713.4L1305.5 713.0L1306.0 712.4L1306.5 713.2L1307.0 714.6L1307.5 718.7L1308.0 712.5L1308.5 715.5L1309.0 711.3L1309.5 718.0L1310.0 713.9L1310.5 715.0L1311.0 717.6L1311.5 717.0L1312.0 711.7L1312.5 716.2L1313.0 714.6L1313.5 716.5L1314.0 715.5L1314.5 716.8L1315.0 715.9L1315.5 715.0L1316.0 717.9L1316.5 712.0L1317.0 714.4L1317.5 713.3L1318.0 715.1L1318.5 714.5L1319.0 715.1L1319.5 714.3L1320.0 714.4L1320.5 711.8L1321.0 715.3L1321.5 716.0L1322.0 714.1L1322.5 713.9L1323.0 713.9L1323.5 719.0L1324.0 715.7L1324.5 716.2L1325.0 714.6L1325.5 714.2L1326.0 713.3L1326.5 718.6L1327.0 711.5L1327.5 715.8L1328.0 715.1L1328.5 714.6L1329.0 711.7L1329.5 712.4L1330.0 717.2L1330.5 713.5L1331.0 716.9L1331.5 716.4L1332.0 716.2L1332.5 716.6L1333.0 712.3L1333.5 713.8L1334.0 716.3L1334.5 712.1L1335.0 718.4L1335.5 713.5L1336.0 714.5L1336.5 712.4L1337.0 715.4L1337.5 713.0L1338.0 714.0L1338.5 712.0L1339.0 717.0L1339.5 710.9L1340.0 715.4L1340.5 714.9L1341.0 715.2L1341.5 712.0L1342.0 716.5L1342.5 716.3L1343.0 714.5L1343.5 714.8L1344.0 713.7L1344.5 715.4L1345.0 712.2L1345.5 715.1L1346.0 714.8L1346.5 710.8L1347.0 708.1L1347.5 713.5L1348.0 713.4L1348.5 716.3L1349.0 713.7L1349.5 712.5L1350.0 710.6L1350.5 713.3L1351.0 712.2L1351.5 711.0L1352.0 713.1L1352.5 715.6L1353.0 713.5L1353.5 711.0L1354.0 713.9L1354.5 710.8L1355.0 709.7L1355.5 714.1L1356.0 711.8L1356.5 715.4L1357.0 713.6L1357.5 711.2L1358.0 713.3L1358.5 715.6L1359.0 712.4L1359.5 710.5L1360.0 711.3L1360.5 710.9L1361.0 710.1L1361.5 709.8L1362.0 713.5L1362.5 714.9L1363.0 711.7L1363.5 714.2L1364.0 714.4L1364.5 716.0L1365.0 712.0L1365.5 711.6L1366.0 713.2L1366.5 712.5L1367.0 712.9L1367.5 715.1L1368.0 711.3L1368.5 712.7L1369.0 710.1L1369.5 711.9L1370.0 710.7L1370.5 710.5L1371.0 711.7L1371.5 711.2L1372.0 712.9L1372.5 713.8L1373.0 708.9L1373.5 714.2L1374.0 707.3L1374.5 712.6L1375.0 713.5L1375.5 710.6L1376.0 711.5L1376.5 710.3L1377.0 713.8L1377.5 705.1L1378.0 709.8L1378.5 707.7L1379.0 712.2L1379.5 714.5L1380.0 714.3L1380.5 713.1L1381.0 712.2L1381.5 709.9L1382.0 714.1L1382.5 712.8L1383.0 709.6L1383.5 708.6L1384.0 709.9L1384.5 713.5L1385.0 713.8L1385.5 714.5L1386.0 709.3L1386.5 709.9L1387.0 712.7L1387.5 709.0L1388.0 708.7L1388.5 702.7L1389.0 703.3L1389.5 702.8L1390.0 701.2L1390.5 700.5L1391.0 697.4L1391.5 703.8L1392.0 700.2L1392.5 696.4L1393.0 701.4L1393.5 698.9L1394.0 699.9L1394.5 697.6L1395.0 696.0L1395.5 695.8L1396.0 697.8L1396.5 698.3L1397.0 697.4L1397.5 697.3L1398.0 698.1L1398.5 695.7L1399.0 696.6L1399.5 696.1L1400.0 693.9L1400.5 692.6L1401.0 691.6L1401.5 690.4L1402.0 690.2L1402.5 691.2L1403.0 690.6L1403.5 690.5L1404.0 690.7L1404.5 691.1L1405.0 691.2L1405.5 692.5L1406.0 691.8L1406.5 693.1L1407.0 696.4L1407.5 695.7L1408.0 693.6L1408.5 696.1L1409.0 697.6L1409.5 695.3L1410.0 695.0L1410.5 700.3L1411.0 696.1L1411.5 694.3L1412.0 697.8L1412.5 702.7L1413.0 699.6L1413.5 700.7L1414.0 694.5L1414.5 698.3L1415.0 702.3L1415.5 699.3L1416.0 703.3L1416.5 701.8L1417.0 702.0L1417.5 705.0L1418.0 700.7L1418.5 701.1L1419.0 702.6L1419.5 703.1L1420.0 699.4L1420.5 705.8L1421.0 704.0L1421.5 703.5L1422.0 705.5L1422.5 703.6L1423.0 707.3L1423.5 705.1L1424.0 706.8L1424.5 703.7L1425.0 705.2L1425.5 706.8L1426.0 704.2L1426.5 705.0L1427.0 706.5L1427.5 709.1L1428.0 708.5L1428.5 708.9L1429.0 707.8L1429.5 709.1L1430.0 710.5L1430.5 707.7L1431.0 708.3L1431.5 708.6L1432.0 703.2L1432.5 707.2L1433.0 708.3L1433.5 709.1L1434.0 706.8L1434.5 709.5L1435.0 706.2L1435.5 707.2L1436.0 711.1L1436.5 704.7L1437.0 707.4L1437.5 707.3L1438.0 707.4L1438.5 706.5L1439.0 709.0L1439.5 705.4L1440.0 704.9L1440.5 708.7L1441.0 705.2L1441.5 708.6L1442.0 707.9L1442.5 706.4L1443.0 707.2L1443.5 707.8L1444.0 709.0L1444.5 706.8L1445.0 707.7L1445.5 705.2L1446.0 707.7L1446.5 704.4L1447.0 708.4L1447.5 707.6L1448.0 713.0L1448.5 711.4L1449.0 708.5L1449.5 710.9L1450.0 709.6L1450.5 706.8L1451.0 704.2L1451.5 711.7L1452.0 710.3L1452.5 705.5L1453.0 711.0L1453.5 711.7L1454.0 708.5L1454.5 711.7L1455.0 706.6L1455.5 709.8L1456.0 710.5L1456.5 712.2L1457.0 711.5L1457.5 711.2L1458.0 712.0L1458.5 709.6L1459.0 714.2L1459.5 710.5L1460.0 713.0L1460.5 711.5L1461.0 711.1L1461.5 712.9L1462.0 712.7L1462.5 714.7L1463.0 714.2L1463.5 710.9L1464.0 713.2L1464.5 712.5L1465.0 710.7L1465.5 710.2L1466.0 713.1L1466.5 711.5L1467.0 709.8L1467.5 712.6L1468.0 713.3L1468.5 713.1L1469.0 710.5L1469.5 711.8L1470.0 715.9L1470.5 711.5L1471.0 712.5L1471.5 718.0L1472.0 713.9L1472.5 712.2L1473.0 709.2L1473.5 713.9L1474.0 710.4L1474.5 713.2L1475.0 711.4L1475.5 709.7L1476.0 716.6L1476.5 713.0L1477.0 715.1L1477.5 714.7L1478.0 711.6L1478.5 713.3L1479.0 712.4L1479.5 715.1L1480.0 714.0L1480.5 712.3L1481.0 716.4L1481.5 714.1L1482.0 713.9L1482.5 711.3L1483.0 713.7L1483.5 709.8L1484.0 713.8L1484.5 710.9L1485.0 713.1L1485.5 712.1L1486.0 713.2L1486.5 713.4L1487.0 712.5L1487.5 712.5L1488.0 709.5L1488.5 708.6L1489.0 715.1L1489.5 713.6L1490.0 709.3L1490.5 716.3L1491.0 710.8L1491.5 713.3L1492.0 713.1L1492.5 712.4L1493.0 713.4L1493.5 709.3L1494.0 712.0L1494.5 711.5L1495.0 712.2L1495.5 711.4L1496.0 710.6L1496.5 710.4L1497.0 713.7L1497.5 710.1L1498.0 712.6L1498.5 712.5L1499.0 711.5L1499.5 712.6L1500.0 712.8L1500.5 710.6L1501.0 712.3L1501.5 715.5L1502.0 709.4L1502.5 711.0L1503.0 710.0L1503.5 715.6L1504.0 708.7L1504.5 711.5L1505.0 713.4L1505.5 709.7L1506.0 711.2L1506.5 710.0L1507.0 708.8L1507.5 711.4L1508.0 712.5L1508.5 710.7L1509.0 711.8L1509.5 712.9L1510.0 713.9L1510.5 709.0L1511.0 712.8L1511.5 710.2L1512.0 707.6L1512.5 709.9L1513.0 712.8L1513.5 712.1L1514.0 709.3L1514.5 714.8L1515.0 712.3L1515.5 711.2L1516.0 710.2L1516.5 712.0L1517.0 710.3L1517.5 713.2L1518.0 711.4L1518.5 711.8L1519.0 709.8L1519.5 707.2L1520.0 711.0L1520.5 707.7L1521.0 709.3L1521.5 709.2L1522.0 707.4L1522.5 710.5L1523.0 705.6L1523.5 711.2L1524.0 706.7L1524.5 709.6L1525.0 710.0L1525.5 705.4L1526.0 705.4L1526.5 708.5L1527.0 706.8L1527.5 706.3L1528.0 702.2L1528.5 702.4L1529.0 706.6L1529.5 708.2L1530.0 703.6L1530.5 703.1L1531.0 705.1L1531.5 705.3L1532.0 705.3L1532.5 703.0L1533.0 699.7L1533.5 706.3L1534.0 702.1L1534.5 705.4L1535.0 698.6L1535.5 703.1L1536.0 701.1L1536.5 699.6L1537.0 703.5L1537.5 703.9L1538.0 699.8L1538.5 702.1L1539.0 698.3L1539.5 699.0L1540.0 699.5L1540.5 699.1L1541.0 700.8L1541.5 696.9L1542.0 701.1L1542.5 700.9L1543.0 698.3L1543.5 696.2L1544.0 693.7L1544.5 698.1L1545.0 696.7L1545.5 698.1L1546.0 696.2L1546.5 697.7L1547.0 697.6L1547.5 697.6L1548.0 697.6L1548.5 697.5L1549.0 697.5L1549.5 697.5L1550.0 697.8L1550.5 697.8L1551.0 697.5L1551.5 696.9L1552.0 700.6L1552.5 699.0L1553.0 698.0L1553.5 699.4L1554.0 699.6L1554.5 698.9L1555.0 697.6L1555.5 701.0L1556.0 700.8L1556.5 700.9L1557.0 703.8L1557.5 699.6L1558.0 700.6L1558.5 703.2L1559.0 704.8L1559.5 704.7L1560.0 705.1L1560.5 699.5L1561.0 705.1L1561.5 705.0L1562.0 705.6L1562.5 702.9L1563.0 705.3L1563.5 706.3L1564.0 707.5L1564.5 704.8L1565.0 701.7L1565.5 704.4L1566.0 705.6L1566.5 705.3L1567.0 708.1L1567.5 703.9L1568.0 702.3L1568.5 703.1L1569.0 705.6L1569.5 702.7L1570.0 702.3L1570.5 702.7L1571.0 706.7L1571.5 704.8L1572.0 703.7L1572.5 706.0L1573.0 705.7L1573.5 702.4L1574.0 706.0L1574.5 704.8L1575.0 700.2L1575.5 702.0L1576.0 704.8L1576.5 705.3L1577.0 703.8L1577.5 702.3L1578.0 704.8L1578.5 700.7L1579.0 705.4L1579.5 704.0L1580.0 704.3" fill="none" stroke="#ff0000" stroke-width="4.60" stroke-linejoin="round"/>
<path d="M148.0 951.0L148.5 949.1L149.0 949.4L149.5 944.2L150.0 955.2L150.5 953.5L151.0 949.7L151.5 952.5L152.0 951.2L152.5 949.1L153.0 953.1L153.5 949.8L154.0 949.8L154.5 948.6L155.0 951.9L155.5 950.6L156.0 952.3L156.5 949.4L157.0 951.4L157.5 948.8L158.0 953.4L158.5 951.8L159.0 952.3L159.5 952.6L160.0 949.0L160.5 953.7L161.0 957.1L161.5 947.7L162.0 947.6L162.5 948.2L163.0 954.4L163.5 952.7L164.0 955.3L164.5 954.5L165.0 953.3L165.5 953.6L166.0 952.5L166.5 955.3L167.0 950.2L167.5 952.2L168.0 954.0L168.5 958.2L169.0 951.6L169.5 950.9L170.0 952.3L170.5 956.4L171.0 953.3L171.5 957.5L172.0 949.3L172.5 957.1L173.0 956.9L173.5 950.6L174.0 954.8L174.5 957.6L175.0 954.7L175.5 957.2L176.0 960.8L176.5 955.4L177.0 954.0L177.5 952.9L178.0 956.6L178.5 954.5L179.0 954.6L179.5 954.8L180.0 956.9L180.5 952.5L181.0 951.4L181.5 949.1L182.0 958.6L182.5 955.7L183.0 959.5L183.5 955.6L184.0 953.8L184.5 957.0L185.0 955.7L185.5 952.7L186.0 953.7L186.5 960.6L187.0 957.0L187.5 957.2L188.0 955.5L188.5 954.5L189.0 958.6L189.5 956.1L190.0 954.5L190.5 956.1L191.0 954.2L191.5 957.1L192.0 959.5L192.5 954.5L193.0 960.4L193.5 955.0L194.0 957.2L194.5 954.6L195.0 956.3L195.5 957.0L196.0 955.8L196.5 955.1L197.0 955.2L197.5 954.8L198.0 952.9L198.5 956.3L199.0 958.0L199.5 959.3L200.0 958.7L200.5 963.3L201.0 957.8L201.5 955.8L202.0 961.8L202.5 954.3L203.0 959.5L203.5 954.5L204.0 957.9L204.5 951.9L205.0 959.3L205.5 956.6L206.0 954.5L206.5 961.3L207.0 959.0L207.5 957.1L208.0 955.1L208.5 956.9L209.0 956.6L209.5 958.9L210.0 959.1L210.5 955.3L211.0 955.6L211.5 955.6L212.0 953.5L212.5 955.5L213.0 956.8L213.5 958.8L214.0 960.4L214.5 954.9L215.0 958.4L215.5 955.9L216.0 962.3L216.5 956.9L217.0 958.3L217.5 954.6L218.0 954.9L218.5 957.5L219.0 956.0L219.5 957.9L220.0 953.0L220.5 958.7L221.0 954.7L221.5 961.4L222.0 956.3L222.5 959.8L223.0 953.4L223.5 958.1L224.0 954.7L224.5 955.8L225.0 957.1L225.5 956.2L226.0 957.7L226.5 958.9L227.0 958.7L227.5 956.8L228.0 953.5L228.5 954.9L229.0 956.5L229.5 951.5L230.0 958.8L230.5 956.2L231.0 956.0L231.5 959.0L232.0 958.2L232.5 956.9L233.0 953.6L233.5 956.8L234.0 956.7L234.5 953.4L235.0 958.1L235.5 956.5L236.0 950.0L236.5 955.1L237.0 951.3L237.5 957.2L238.0 956.1L238.5 951.0L239.0 951.2L239.5 953.5L240.0 952.4L240.5 956.6L241.0 954.3L241.5 951.3L242.0 953.1L242.5 946.0L243.0 951.4L243.5 952.2L244.0 948.9L244.5 946.8L245.0 949.3L245.5 952.1L246.0 946.8L246.5 942.6L247.0 948.3L247.5 939.0L248.0 944.3L248.5 940.7L249.0 943.8L249.5 938.5L250.0 943.3L250.5 940.0L251.0 934.2L251.5 933.1L252.0 936.8L252.5 940.5L253.0 937.1L253.5 936.6L254.0 935.5L254.5 937.6L255.0 936.4L255.5 935.9L256.0 932.4L256.5 937.7L257.0 937.9L257.5 930.8L258.0 939.7L258.5 935.4L259.0 932.1L259.5 928.2L260.0 934.3L260.5 933.7L261.0 930.4L261.5 927.0L262.0 933.9L262.5 929.1L263.0 928.8L263.5 936.6L264.0 934.0L264.5 930.0L265.0 925.4L265.5 927.0L266.0 918.2L266.5 922.9L267.0 919.3L267.5 916.4L268.0 914.0L268.5 917.7L269.0 914.9L269.5 913.2L270.0 912.8L270.5 906.2L271.0 902.7L271.5 898.7L272.0 899.7L272.5 899.7L273.0 894.6L273.5 893.8L274.0 886.3L274.5 885.4L275.0 882.1L275.5 878.4L276.0 883.8L276.5 878.5L277.0 871.4L277.5 868.0L278.0 865.9L278.5 857.6L279.0 856.7L279.5 845.7L280.0 840.5L280.5 830.7L281.0 823.1L281.5 811.4L282.0 800.7L282.5 791.6L283.0 781.3L283.5 770.9L284.0 760.1L284.5 751.9L285.0 738.1L285.5 722.2L286.0 709.7L286.5 689.7L287.0 677.6L287.5 657.1L288.0 633.8L288.5 620.5L289.0 602.5L289.5 576.7L290.0 565.2L290.5 551.0L291.0 532.3L291.5 517.8L292.0 501.3L292.5 487.0L293.0 470.0L293.5 456.8L294.0 438.8L294.5 426.9L295.0 415.2L295.5 406.7L296.0 400.8L296.5 398.4L297.0 400.1L297.5 407.2L298.0 419.1L298.5 434.1L299.0 452.3L299.5 471.2L300.0 495.6L300.5 517.7L301.0 536.4L301.5 557.9L302.0 578.2L302.5 609.6L303.0 635.2L303.5 662.4L304.0 690.7L304.5 714.7L305.0 731.8L305.5 744.6L306.0 758.5L306.5 770.6L307.0 788.6L307.5 804.7L308.0 805.8L308.5 820.6L309.0 830.8L309.5 836.0L310.0 847.0L310.5 850.9L311.0 863.2L311.5 864.5L312.0 871.5L312.5 877.9L313.0 879.7L313.5 880.6L314.0 887.7L314.5 894.7L315.0 895.9L315.5 899.8L316.0 899.3L316.5 905.0L317.0 908.7L317.5 909.1L318.0 915.9L318.5 912.5L319.0 912.2L319.5 912.5L320.0 921.2L320.5 919.7L321.0 923.9L321.5 923.9L322.0 928.3L322.5 928.7L323.0 925.9L323.5 928.8L324.0 932.0L324.5 927.4L325.0 935.3L325.5 935.9L326.0 936.5L326.5 934.6L327.0 937.0L327.5 934.6L328.0 938.6L328.5 938.1L329.0 940.8L329.5 940.4L330.0 943.4L330.5 946.6L331.0 941.3L331.5 947.9L332.0 941.5L332.5 942.0L333.0 948.1L333.5 949.3L334.0 951.2L334.5 946.8L335.0 951.7L335.5 953.0L336.0 956.6L336.5 954.0L337.0 956.4L337.5 953.3L338.0 956.1L338.5 956.2L339.0 959.8L339.5 956.2L340.0 957.4L340.5 961.7L341.0 965.5L341.5 962.7L342.0 963.2L342.5 962.3L343.0 966.7L343.5 966.0L344.0 969.6L344.5 966.8L345.0 964.1L345.5 965.6L346.0 965.1L346.5 964.9L347.0 971.5L347.5 970.7L348.0 965.8L348.5 973.6L349.0 969.9L349.5 967.0L350.0 970.5L350.5 969.6L351.0 967.9L351.5 965.2L352.0 970.2L352.5 971.0L353.0 964.0L353.5 971.9L354.0 972.2L354.5 969.6L355.0 971.2L355.5 970.3L356.0 969.1L356.5 970.4L357.0 974.7L357.5 967.8L358.0 972.2L358.5 972.1L359.0 970.0L359.5 970.7L360.0 968.4L360.5 969.9L361.0 972.1L361.5 973.0L362.0 970.0L362.5 980.0L363.0 971.0L363.5 972.8L364.0 972.0L364.5 971.6L365.0 975.9L365.5 971.5L366.0 976.1L366.5 975.7L367.0 970.3L367.5 975.5L368.0 971.4L368.5 979.9L369.0 972.1L369.5 970.8L370.0 968.4L370.5 970.0L371.0 971.8L371.5 970.8L372.0 970.3L372.5 971.7L373.0 972.9L373.5 977.1L374.0 969.2L374.5 972.1L375.0 971.2L375.5 969.8L376.0 970.4L376.5 971.4L377.0 975.4L377.5 973.2L378.0 972.4L378.5 975.3L379.0 974.5L379.5 973.2L380.0 974.8L380.5 971.8L381.0 975.4L381.5 975.0L382.0 972.9L382.5 970.9L383.0 977.7L383.5 974.2L384.0 981.6L384.5 972.4L385.0 976.2L385.5 973.0L386.0 974.7L386.5 976.2L387.0 972.1L387.5 973.9L388.0 974.6L388.5 974.5L389.0 975.7L389.5 976.8L390.0 976.3L390.5 974.9L391.0 973.4L391.5 971.5L392.0 972.5L392.5 973.0L393.0 976.0L393.5 973.5L394.0 971.3L394.5 975.9L395.0 972.4L395.5 972.5L396.0 973.9L396.5 975.6L397.0 968.5L397.5 971.7L398.0 974.9L398.5 973.6L399.0 972.3L399.5 973.1L400.0 977.9L400.5 973.4L401.0 976.3L401.5 976.5L402.0 973.4L402.5 975.6L403.0 973.4L403.5 973.0L404.0 971.7L404.5 976.6L405.0 973.4L405.5 972.9L406.0 971.4L406.5 978.6L407.0 975.8L407.5 973.4L408.0 971.9L408.5 969.6L409.0 973.9L409.5 973.7L410.0 969.3L410.5 975.4L411.0 974.2L411.5 969.7L412.0 970.5L412.5 970.6L413.0 971.8L413.5 970.8L414.0 966.9L414.5 974.3L415.0 971.3L415.5 973.4L416.0 973.1L416.5 969.3L417.0 970.4L417.5 971.1L418.0 971.0L418.5 968.4L419.0 967.0L419.5 968.4L420.0 966.0L420.5 966.3L421.0 962.4L421.5 967.3L422.0 964.2L422.5 965.0L423.0 965.9L423.5 966.4L424.0 969.9L424.5 965.3L425.0 960.9L425.5 964.2L426.0 962.0L426.5 963.9L427.0 960.7L427.5 960.1L428.0 960.0L428.5 959.1L429.0 955.6L429.5 957.8L430.0 958.7L430.5 961.0L431.0 956.6L431.5 955.6L432.0 957.2L432.5 956.2L433.0 957.9L433.5 954.3L434.0 951.8L434.5 953.9L435.0 953.2L435.5 947.0L436.0 947.3L436.5 941.4L437.0 943.3L437.5 940.6L438.0 940.8L438.5 938.7L439.0 938.1L439.5 936.8L440.0 936.8L440.5 934.7L441.0 931.3L441.5 928.1L442.0 932.8L442.5 931.7L443.0 925.6L443.5 926.4L444.0 919.6L444.5 917.8L445.0 919.1L445.5 921.5L446.0 913.3L446.5 911.7L447.0 915.4L447.5 904.3L448.0 907.9L448.5 904.7L449.0 899.8L449.5 897.4L450.0 899.5L450.5 885.9L451.0 882.4L451.5 876.2L452.0 868.1L452.5 859.2L453.0 858.8L453.5 848.0L454.0 836.0L454.5 832.0L455.0 828.3L455.5 821.9L456.0 811.1L456.5 808.1L457.0 802.8L457.5 796.9L458.0 790.9L458.5 779.8L459.0 782.3L459.5 772.8L460.0 769.7L460.5 764.6L461.0 752.0L461.5 743.4L462.0 739.3L462.5 731.5L463.0 725.4L463.5 720.0L464.0 716.6L464.5 713.0L465.0 711.3L465.5 711.2L466.0 713.1L466.5 717.1L467.0 722.4L467.5 728.6L468.0 737.6L468.5 744.7L469.0 755.2L469.5 765.0L470.0 770.8L470.5 778.5L471.0 789.5L471.5 801.2L472.0 809.9L472.5 821.1L473.0 831.4L473.5 842.4L474.0 852.5L474.5 858.5L475.0 868.3L475.5 878.6L476.0 885.5L476.5 895.5L477.0 903.8L477.5 909.0L478.0 913.8L478.5 919.4L479.0 931.4L479.5 934.6L480.0 934.5L480.5 939.3L481.0 949.1L481.5 950.5L482.0 948.9L482.5 952.8L483.0 947.6L483.5 952.4L484.0 955.2L484.5 950.0L485.0 953.9L485.5 959.2L486.0 961.7L486.5 959.3L487.0 963.2L487.5 968.1L488.0 964.8L488.5 963.8L489.0 968.0L489.5 968.2L490.0 973.3L490.5 971.5L491.0 970.1L491.5 978.7L492.0 972.5L492.5 975.7L493.0 976.9L493.5 977.9L494.0 977.1L494.5 978.8L495.0 977.8L495.5 975.2L496.0 978.7L496.5 979.4L497.0 980.1L497.5 981.5L498.0 980.3L498.5 985.7L499.0 986.9L499.5 978.4L500.0 984.4L500.5 983.2L501.0 979.2L501.5 987.0L502.0 985.1L502.5 986.1L503.0 985.9L503.5 990.5L504.0 991.2L504.5 989.1L505.0 990.4L505.5 988.6L506.0 989.3L506.5 987.2L507.0 989.1L507.5 987.2L508.0 989.7L508.5 990.6L509.0 989.1L509.5 991.0L510.0 994.3L510.5 982.3L511.0 987.1L511.5 985.2L512.0 985.0L512.5 982.3L513.0 985.2L513.5 983.9L514.0 982.3L514.5 982.6L515.0 981.1L515.5 976.2L516.0 983.8L516.5 979.7L517.0 977.4L517.5 979.6L518.0 976.5L518.5 972.0L519.0 978.6L519.5 971.5L520.0 974.2L520.5 974.2L521.0 976.3L521.5 974.8L522.0 971.0L522.5 967.1L523.0 966.1L523.5 967.6L524.0 967.0L524.5 961.6L525.0 956.1L525.5 957.5L526.0 951.4L526.5 948.6L527.0 946.2L527.5 945.6L528.0 942.2L528.5 941.2L529.0 939.2L529.5 935.3L530.0 928.8L530.5 928.5L531.0 929.1L531.5 927.7L532.0 927.3L532.5 926.2L533.0 926.0L533.5 926.4L534.0 927.6L534.5 928.8L535.0 931.4L535.5 932.1L536.0 934.8L536.5 941.5L537.0 939.6L537.5 947.7L538.0 950.4L538.5 953.8L539.0 957.1L539.5 958.9L540.0 954.7L540.5 959.3L541.0 962.1L541.5 967.6L542.0 964.6L542.5 967.5L543.0 970.2L543.5 976.2L544.0 971.4L544.5 973.4L545.0 979.9L545.5 975.0L546.0 982.6L546.5 982.2L547.0 981.0L547.5 985.1L548.0 984.9L548.5 988.8L549.0 990.1L549.5 993.6L550.0 990.6L550.5 991.2L551.0 989.8L551.5 991.1L552.0 993.5L552.5 986.1L553.0 991.8L553.5 988.4L554.0 989.1L554.5 988.9L555.0 989.3L555.5 986.8L556.0 984.2L556.5 984.7L557.0 982.7L557.5 980.9L558.0 980.5L558.5 980.7L559.0 977.5L559.5 976.0L560.0 971.1L560.5 972.3L561.0 966.7L561.5 971.3L562.0 965.8L562.5 969.7L563.0 972.3L563.5 962.8L564.0 965.5L564.5 962.0L565.0 958.3L565.5 956.1L566.0 957.7L566.5 958.0L567.0 953.6L567.5 947.2L568.0 946.3L568.5 946.3L569.0 948.0L569.5 943.5L570.0 941.6L570.5 941.6L571.0 936.7L571.5 935.3L572.0 933.6L572.5 930.0L573.0 931.8L573.5 930.6L574.0 929.8L574.5 928.7L575.0 928.5L575.5 928.6L576.0 929.5L576.5 931.6L577.0 932.9L577.5 936.6L578.0 938.9L578.5 943.9L579.0 946.3L579.5 952.1L580.0 957.0L580.5 959.5L581.0 956.8L581.5 965.6L582.0 966.6L582.5 965.2L583.0 967.7L583.5 972.0L584.0 975.5L584.5 975.1L585.0 974.4L585.5 980.9L586.0 982.5L586.5 989.8L587.0 982.7L587.5 993.4L588.0 993.1L588.5 991.0L589.0 995.5L589.5 992.8L590.0 995.9L590.5 992.5L591.0 995.0L591.5 992.8L592.0 991.9L592.5 995.3L593.0 994.8L593.5 998.1L594.0 1000.1L594.5 997.0L595.0 997.9L595.5 998.5L596.0 994.3L596.5 999.3L597.0 998.9L597.5 999.1L598.0 996.8L598.5 995.0L599.0 999.3L599.5 1000.9L600.0 1003.5L600.5 1003.2L601.0 1004.2L601.5 1001.8L602.0 1003.8L602.5 1000.7L603.0 1002.8L603.5 1003.7L604.0 1008.0L604.5 1002.3L605.0 998.7L605.5 1005.1L606.0 1000.0L606.5 1001.8L607.0 1001.3L607.5 999.8L608.0 1005.2L608.5 1003.4L609.0 1000.4L609.5 1001.9L610.0 1000.6L610.5 1002.9L611.0 1000.3L611.5 999.1L612.0 999.0L612.5 999.2L613.0 1000.5L613.5 997.3L614.0 998.8L614.5 999.6L615.0 1003.7L615.5 999.7L616.0 990.1L616.5 995.4L617.0 995.2L617.5 996.4L618.0 998.8L618.5 996.3L619.0 988.6L619.5 994.2L620.0 993.2L620.5 993.4L621.0 995.2L621.5 988.9L622.0 993.6L622.5 986.7L623.0 990.2L623.5 990.6L624.0 994.2L624.5 987.6L625.0 985.6L625.5 989.5L626.0 987.3L626.5 989.4L627.0 987.3L627.5 987.4L628.0 987.7L628.5 987.5L629.0 987.6L629.5 987.4L630.0 988.7L630.5 987.7L631.0 989.5L631.5 987.6L632.0 986.9L632.5 989.7L633.0 991.2L633.5 995.0L634.0 993.1L634.5 994.7L635.0 995.4L635.5 1002.1L636.0 993.7L636.5 999.4L637.0 997.0L637.5 998.9L638.0 997.8L638.5 1002.7L639.0 997.8L639.5 998.5L640.0 1001.9L640.5 1000.4L641.0 1005.5L641.5 1006.7L642.0 1003.3L642.5 1007.5L643.0 1004.6L643.5 1006.4L644.0 1006.8L644.5 1011.5L645.0 1007.2L645.5 1005.3L646.0 1005.4L646.5 1010.6L647.0 1004.0L647.5 1007.0L648.0 1007.4L648.5 1002.7L649.0 1007.5L649.5 1011.1L650.0 1009.4L650.5 1006.9L651.0 1010.8L651.5 1010.5L652.0 1014.2L652.5 1007.8L653.0 1008.7L653.5 1009.9L654.0 1009.6L654.5 1010.2L655.0 1009.8L655.5 1008.6L656.0 1006.5L656.5 1009.1L657.0 1007.2L657.5 1008.1L658.0 1009.4L658.5 1011.9L659.0 1012.8L659.5 1008.5L660.0 1011.7L660.5 1012.9L661.0 1011.0L661.5 1007.3L662.0 1006.2L662.5 1013.2L663.0 1013.5L663.5 1012.1L664.0 1009.0L664.5 1015.0L665.0 1014.5L665.5 1011.6L666.0 1011.2L666.5 1007.2L667.0 1013.6L667.5 1008.1L668.0 1013.6L668.5 1013.7L669.0 1012.3L669.5 1015.8L670.0 1011.4L670.5 1013.6L671.0 1014.2L671.5 1012.9L672.0 1011.4L672.5 1015.3L673.0 1013.5L673.5 1012.1L674.0 1012.2L674.5 1012.9L675.0 1018.0L675.5 1013.0L676.0 1012.2L676.5 1010.3L677.0 1010.0L677.5 1008.5L678.0 1013.5L678.5 1013.0L679.0 1010.6L679.5 1009.6L680.0 1012.3L680.5 1011.9L681.0 1010.0L681.5 1013.9L682.0 1013.6L682.5 1013.2L683.0 1015.1L683.5 1011.8L684.0 1016.6L684.5 1011.1L685.0 1014.7L685.5 1015.0L686.0 1012.9L686.5 1014.4L687.0 1010.6L687.5 1010.1L688.0 1013.2L688.5 1012.0L689.0 1015.1L689.5 1013.8L690.0 1015.2L690.5 1014.5L691.0 1014.3L691.5 1014.1L692.0 1013.0L692.5 1012.8L693.0 1018.7L693.5 1009.8L694.0 1013.5L694.5 1016.3L695.0 1015.0L695.5 1017.3L696.0 1015.3L696.5 1011.1L697.0 1013.3L697.5 1010.8L698.0 1016.4L698.5 1017.5L699.0 1013.1L699.5 1015.5L700.0 1013.3L700.5 1010.9L701.0 1013.2L701.5 1010.6L702.0 1013.0L702.5 1014.8L703.0 1016.0L703.5 1017.4L704.0 1013.6L704.5 1014.9L705.0 1015.4L705.5 1015.7L706.0 1007.8L706.5 1012.6L707.0 1016.3L707.5 1011.9L708.0 1015.1L708.5 1016.5L709.0 1010.1L709.5 1014.1L710.0 1015.1L710.5 1014.6L711.0 1011.0L711.5 1015.4L712.0 1013.3L712.5 1016.6L713.0 1015.7L713.5 1013.4L714.0 1015.1L714.5 1013.1L715.0 1013.1L715.5 1011.0L716.0 1014.2L716.5 1016.6L717.0 1015.0L717.5 1014.7L718.0 1013.3L718.5 1013.5L719.0 1016.5L719.5 1011.3L720.0 1019.5L720.5 1014.6L721.0 1019.8L721.5 1017.5L722.0 1013.8L722.5 1016.5L723.0 1015.4L723.5 1015.8L724.0 1016.6L724.5 1013.5L725.0 1013.3L725.5 1013.8L726.0 1011.6L726.5 1014.1L727.0 1015.3L727.5 1015.3L728.0 1015.2L728.5 1013.8L729.0 1016.5L729.5 1009.9L730.0 1013.7L730.5 1013.9L731.0 1016.7L731.5 1016.1L732.0 1016.4L732.5 1014.6L733.0 1016.7L733.5 1012.1L734.0 1014.6L734.5 1009.5L735.0 1018.3L735.5 1018.0L736.0 1012.9L736.5 1012.3L737.0 1009.3L737.5 1010.6L738.0 1014.4L738.5 1013.7L739.0 1010.6L739.5 1012.8L740.0 1012.4L740.5 1015.0L741.0 1015.5L741.5 1013.3L742.0 1014.0L742.5 1013.7L743.0 1008.8L743.5 1014.0L744.0 1013.4L744.5 1015.2L745.0 1009.2L745.5 1015.1L746.0 1011.8L746.5 1013.8L747.0 1016.0L747.5 1009.7L748.0 1010.0L748.5 1015.3L749.0 1010.3L749.5 1010.6L750.0 1014.2L750.5 1012.2L751.0 1014.4L751.5 1013.2L752.0 1012.4L752.5 1014.7L753.0 1017.4L753.5 1012.0L754.0 1015.6L754.5 1014.7L755.0 1012.3L755.5 1013.0L756.0 1009.7L756.5 1010.4L757.0 1012.4L757.5 1011.5L758.0 1014.6L758.5 1008.5L759.0 1010.7L759.5 1009.9L760.0 1010.9L760.5 1013.8L761.0 1008.3L761.5 1012.9L762.0 1009.5L762.5 1010.0L763.0 1012.9L763.5 1009.8L764.0 1011.9L764.5 1010.5L765.0 1009.7L765.5 1009.1L766.0 1005.8L766.5 1007.9L767.0 1009.8L767.5 1009.7L768.0 1005.7L768.5 1011.2L769.0 1010.0L769.5 1005.5L770.0 1005.9L770.5 1009.3L771.0 1003.9L771.5 1006.0L772.0 1007.4L772.5 1007.0L773.0 1006.9L773.5 1007.7L774.0 1004.8L774.5 1005.3L775.0 1010.9L775.5 1002.7L776.0 1004.6L776.5 1005.7L777.0 1003.7L777.5 1007.7L778.0 1004.8L778.5 1006.1L779.0 998.2L779.5 1006.6L780.0 1006.3L780.5 1001.6L781.0 1006.1L781.5 1003.4L782.0 1004.7L782.5 1006.4L783.0 1002.2L783.5 999.4L784.0 1001.4L784.5 998.2L785.0 998.9L785.5 998.7L786.0 998.5L786.5 1002.4L787.0 1001.3L787.5 997.0L788.0 1001.2L788.5 994.4L789.0 996.4L789.5 997.1L790.0 999.8L790.5 998.3L791.0 997.2L791.5 998.7L792.0 996.9L792.5 998.0L793.0 992.6L793.5 990.0L794.0 992.5L794.5 994.8L795.0 993.0L795.5 993.9L796.0 993.0L796.5 992.0L797.0 992.2L797.5 988.1L798.0 991.7L798.5 986.4L799.0 987.8L799.5 984.2L800.0 987.9L800.5 982.6L801.0 988.6L801.5 981.6L802.0 984.5L802.5 982.7L803.0 980.2L803.5 984.3L804.0 979.6L804.5 983.0L805.0 976.5L805.5 976.1L806.0 972.4L806.5 977.3L807.0 977.2L807.5 974.6L808.0 972.7L808.5 970.0L809.0 976.4L809.5 971.6L810.0 964.5L810.5 966.9L811.0 960.4L811.5 968.7L812.0 968.3L812.5 965.7L813.0 960.8L813.5 958.1L814.0 954.6L814.5 957.3L815.0 952.6L815.5 951.5L816.0 948.8L816.5 947.4L817.0 947.8L817.5 947.2L818.0 941.2L818.5 938.1L819.0 932.3L819.5 928.7L820.0 925.5L820.5 926.3L821.0 921.3L821.5 919.3L822.0 914.4L822.5 908.6L823.0 902.6L823.5 900.3L824.0 893.5L824.5 896.9L825.0 888.3L825.5 882.0L826.0 882.1L826.5 871.1L827.0 867.1L827.5 858.2L828.0 850.7L828.5 839.7L829.0 832.4L829.5 826.0L830.0 811.4L830.5 800.9L831.0 801.1L831.5 791.5L832.0 787.4L832.5 779.9L833.0 779.1L833.5 775.3L834.0 765.8L834.5 765.5L835.0 760.2L835.5 756.0L836.0 754.5L836.5 751.9L837.0 747.6L837.5 745.1L838.0 743.3L838.5 741.6L839.0 741.0L839.5 741.6L840.0 743.3L840.5 746.2L841.0 750.0L841.5 754.4L842.0 761.0L842.5 765.3L843.0 769.0L843.5 776.1L844.0 783.9L844.5 793.0L845.0 795.6L845.5 802.7L846.0 811.2L846.5 818.4L847.0 827.5L847.5 838.7L848.0 851.4L848.5 859.9L849.0 867.3L849.5 877.1L850.0 880.7L850.5 893.1L851.0 899.5L851.5 905.3L852.0 907.5L852.5 922.0L853.0 916.6L853.5 926.3L854.0 931.4L854.5 939.4L855.0 938.6L855.5 946.5L856.0 949.5L856.5 952.8L857.0 958.8L857.5 963.0L858.0 963.2L858.5 963.8L859.0 960.8L859.5 970.7L860.0 968.0L860.5 965.8L861.0 971.6L861.5 975.7L862.0 973.1L862.5 971.8L863.0 980.5L863.5 977.7L864.0 977.8L864.5 980.0L865.0 973.3L865.5 978.5L866.0 978.6L866.5 984.3L867.0 978.0L867.5 977.9L868.0 975.6L868.5 976.2L869.0 976.8L869.5 976.8L870.0 974.4L870.5 978.0L871.0 972.9L871.5 971.5L872.0 971.3L872.5 967.6L873.0 962.8L873.5 958.2L874.0 960.3L874.5 955.2L875.0 957.7L875.5 950.5L876.0 944.7L876.5 947.4L877.0 947.3L877.5 942.0L878.0 940.5L878.5 938.2L879.0 939.4L879.5 934.1L880.0 931.3L880.5 928.3L881.0 924.7L881.5 928.5L882.0 926.4L882.5 922.4L883.0 922.9L883.5 921.8L884.0 920.9L884.5 920.6L885.0 920.5L885.5 920.6L886.0 921.1L886.5 922.0L887.0 923.1L887.5 924.3L888.0 926.4L888.5 928.8L889.0 928.2L889.5 932.1L890.0 933.0L890.5 939.7L891.0 935.6L891.5 940.5L892.0 944.8L892.5 944.8L893.0 946.8L893.5 948.5L894.0 952.9L894.5 952.2L895.0 957.5L895.5 960.4L896.0 960.3L896.5 967.3L897.0 968.7L897.5 973.4L898.0 977.6L898.5 979.2L899.0 978.3L899.5 984.1L900.0 981.8L900.5 985.5L901.0 992.4L901.5 989.9L902.0 994.6L902.5 991.8L903.0 993.4L903.5 991.9L904.0 997.7L904.5 996.2L905.0 999.1L905.5 999.6L906.0 1000.8L906.5 1001.3L907.0 1001.4L907.5 1002.3L908.0 1001.6L908.5 999.1L909.0 1005.7L909.5 1010.0L910.0 1008.4L910.5 1011.8L911.0 1008.2L911.5 1005.4L912.0 1005.8L912.5 1010.1L913.0 1009.5L913.5 1008.6L914.0 1010.9L914.5 1007.4L915.0 1010.6L915.5 1008.9L916.0 1010.0L916.5 1012.4L917.0 1009.5L917.5 1012.9L918.0 1012.9L918.5 1008.3L919.0 1015.3L919.5 1007.4L920.0 1010.0L920.5 1012.0L921.0 1005.3L921.5 1012.8L922.0 1013.1L922.5 1010.3L923.0 1011.3L923.5 1011.2L924.0 1010.3L924.5 1013.3L925.0 1010.1L925.5 1010.9L926.0 1011.9L926.5 1013.0L927.0 1013.6L927.5 1007.9L928.0 1006.7L928.5 1011.0L929.0 1011.2L929.5 1009.0L930.0 1012.2L930.5 1012.9L931.0 1012.4L931.5 1015.3L932.0 1009.3L932.5 1011.8L933.0 1016.1L933.5 1013.3L934.0 1009.3L934.5 1012.3L935.0 1014.6L935.5 1016.6L936.0 1013.5L936.5 1014.6L937.0 1009.6L937.5 1011.5L938.0 1014.8L938.5 1010.0L939.0 1012.0L939.5 1008.0L940.0 1015.6L940.5 1012.0L941.0 1013.6L941.5 1009.0L942.0 1009.4L942.5 1016.5L943.0 1011.6L943.5 1011.2L944.0 1013.6L944.5 1013.7L945.0 1008.1L945.5 1010.3L946.0 1012.7L946.5 1012.6L947.0 1013.4L947.5 1011.6L948.0 1012.0L948.5 1013.1L949.0 1011.1L949.5 1010.8L950.0 1011.4L950.5 1012.7L951.0 1012.4L951.5 1011.6L952.0 1012.2L952.5 1012.6L953.0 1013.4L953.5 1013.5L954.0 1009.9L954.5 1014.9L955.0 1009.2L955.5 1014.0L956.0 1011.2L956.5 1014.1L957.0 1015.1L957.5 1008.6L958.0 1014.1L958.5 1013.4L959.0 1011.7L959.5 1013.6L960.0 1011.7L960.5 1013.0L961.0 1010.4L961.5 1014.5L962.0 1014.0L962.5 1014.3L963.0 1011.1L963.5 1016.6L964.0 1016.9L964.5 1012.2L965.0 1011.4L965.5 1011.3L966.0 1013.7L966.5 1014.3L967.0 1010.3L967.5 1007.4L968.0 1012.7L968.5 1011.5L969.0 1011.9L969.5 1012.5L970.0 1008.8L970.5 1011.3L971.0 1010.3L971.5 1011.7L972.0 1013.4L972.5 1010.6L973.0 1008.5L973.5 1013.0L974.0 1011.7L974.5 1009.5L975.0 1005.8L975.5 1007.7L976.0 1009.8L976.5 1010.4L977.0 1007.8L977.5 1009.7L978.0 1007.1L978.5 1007.3L979.0 1009.1L979.5 1007.1L980.0 1007.7L980.5 1009.0L981.0 1009.2L981.5 1005.1L982.0 1005.5L982.5 1002.8L983.0 1002.5L983.5 1005.7L984.0 1003.5L984.5 1000.2L985.0 1005.1L985.5 1001.8L986.0 1002.6L986.5 1003.8L987.0 1003.4L987.5 1002.0L988.0 997.4L988.5 1002.6L989.0 999.7L989.5 997.6L990.0 995.5L990.5 1002.9L991.0 999.9L991.5 999.5L992.0 1000.2L992.5 998.3L993.0 994.9L993.5 999.2L994.0 999.5L994.5 998.0L995.0 999.9L995.5 1000.3L996.0 993.9L996.5 994.3L997.0 996.8L997.5 994.8L998.0 994.5L998.5 995.6L999.0 994.8L999.5 991.8L1000.0 992.6L1000.5 990.3L1001.0 991.0L1001.5 988.4L1002.0 986.0L1002.5 988.6L1003.0 987.9L1003.5 990.7L1004.0 991.9L1004.5 988.5L1005.0 989.5L1005.5 987.3L1006.0 987.0L1006.5 988.9L1007.0 989.3L1007.5 991.1L1008.0 991.2L1008.5 995.1L1009.0 991.5L1009.5 988.8L1010.0 993.1L1010.5 991.9L1011.0 994.3L1011.5 996.9L1012.0 993.6L1012.5 995.4L1013.0 997.2L1013.5 994.5L1014.0 997.4L1014.5 998.6L1015.0 999.5L1015.5 1000.3L1016.0 999.3L1016.5 999.0L1017.0 995.1L1017.5 992.2L1018.0 995.7L1018.5 1000.7L1019.0 997.6L1019.5 992.1L1020.0 995.7L1020.5 997.1L1021.0 991.9L1021.5 996.8L1022.0 992.6L1022.5 996.8L1023.0 993.9L1023.5 999.9L1024.0 989.5L1024.5 992.2L1025.0 987.5L1025.5 992.3L1026.0 989.2L1026.5 990.0L1027.0 987.3L1027.5 983.6L1028.0 983.8L1028.5 981.4L1029.0 980.6L1029.5 981.9L1030.0 982.6L1030.5 980.8L1031.0 978.8L1031.5 975.2L1032.0 976.4L1032.5 972.5L1033.0 973.9L1033.5 974.5L1034.0 971.6L1034.5 970.2L1035.0 969.7L1035.5 971.3L1036.0 968.8L1036.5 966.1L1037.0 968.1L1037.5 966.6L1038.0 972.1L1038.5 968.8L1039.0 965.5L1039.5 969.2L1040.0 970.1L1040.5 969.4L1041.0 967.7L1041.5 968.8L1042.0 969.1L1042.5 970.7L1043.0 969.6L1043.5 974.0L1044.0 969.2L1044.5 973.5L1045.0 970.9L1045.5 967.8L1046.0 970.0L1046.5 970.1L1047.0 972.3L1047.5 980.7L1048.0 978.8L1048.5 983.6L1049.0 982.1L1049.5 985.5L1050.0 984.8L1050.5 990.6L1051.0 989.8L1051.5 991.0L1052.0 993.2L1052.5 999.8L1053.0 997.6L1053.5 999.8L1054.0 996.7L1054.5 999.1L1055.0 1002.2L1055.5 998.5L1056.0 1006.0L1056.5 1004.3L1057.0 1004.0L1057.5 1003.8L1058.0 1003.9L1058.5 1003.5L1059.0 1007.7L1059.5 1006.4L1060.0 1007.7L1060.5 1004.6L1061.0 1003.5L1061.5 1008.4L1062.0 1003.1L1062.5 1004.5L1063.0 1007.5L1063.5 1008.4L1064.0 1003.4L1064.5 1005.7L1065.0 1006.5L1065.5 1006.2L1066.0 1004.8L1066.5 1008.1L1067.0 1005.7L1067.5 1006.3L1068.0 1002.1L1068.5 1006.8L1069.0 1002.9L1069.5 1008.6L1070.0 1008.2L1070.5 1006.2L1071.0 1007.6L1071.5 1007.6L1072.0 1007.1L1072.5 1008.2L1073.0 1007.2L1073.5 1006.4L1074.0 1005.8L1074.5 1011.1L1075.0 1007.9L1075.5 1007.4L1076.0 1009.0L1076.5 1006.6L1077.0 1006.6L1077.5 1008.9L1078.0 1009.6L1078.5 1008.8L1079.0 1004.2L1079.5 1007.4L1080.0 1007.2L1080.5 1008.1L1081.0 1005.2L1081.5 1004.8L1082.0 1006.7L1082.5 1005.0L1083.0 1004.5L1083.5 1006.5L1084.0 1008.5L1084.5 1006.8L1085.0 1008.7L1085.5 1004.1L1086.0 1007.6L1086.5 1006.0L1087.0 1004.0L1087.5 1004.9L1088.0 1003.8L1088.5 1005.0L1089.0 1003.8L1089.5 1007.9L1090.0 1004.3L1090.5 1001.9L1091.0 1004.3L1091.5 1005.4L1092.0 1003.8L1092.5 1006.1L1093.0 1002.2L1093.5 1002.1L1094.0 1007.2L1094.5 1003.6L1095.0 1004.5L1095.5 1004.2L1096.0 1004.1L1096.5 1002.7L1097.0 1001.9L1097.5 1004.3L1098.0 1000.6L1098.5 1001.5L1099.0 1002.3L1099.5 999.6L1100.0 996.8L1100.5 1000.6L1101.0 1001.4L1101.5 999.2L1102.0 994.7L1102.5 999.0L1103.0 1001.3L1103.5 993.4L1104.0 990.4L1104.5 995.0L1105.0 995.2L1105.5 996.1L1106.0 995.6L1106.5 993.5L1107.0 993.8L1107.5 992.8L1108.0 991.7L1108.5 990.6L1109.0 989.7L1109.5 990.7L1110.0 989.3L1110.5 986.7L1111.0 989.0L1111.5 984.3L1112.0 984.4L1112.5 984.2L1113.0 979.0L1113.5 981.1L1114.0 982.7L1114.5 981.6L1115.0 976.3L1115.5 976.0L1116.0 974.4L1116.5 975.1L1117.0 974.3L1117.5 969.9L1118.0 972.6L1118.5 970.8L1119.0 969.1L1119.5 966.5L1120.0 966.1L1120.5 961.3L1121.0 964.0L1121.5 962.5L1122.0 960.4L1122.5 956.6L1123.0 960.2L1123.5 958.4L1124.0 950.7L1124.5 954.0L1125.0 952.0L1125.5 944.9L1126.0 949.8L1126.5 948.4L1127.0 946.8L1127.5 943.8L1128.0 940.2L1128.5 938.6L1129.0 938.7L1129.5 938.1L1130.0 933.0L1130.5 931.7L1131.0 931.6L1131.5 925.9L1132.0 928.0L1132.5 926.0L1133.0 923.9L1133.5 924.6L1134.0 923.7L1134.5 923.5L1135.0 923.6L1135.5 923.7L1136.0 924.0L1136.5 925.3L1137.0 924.7L1137.5 928.4L1138.0 929.3L1138.5 932.2L1139.0 928.9L1139.5 934.4L1140.0 936.7L1140.5 934.1L1141.0 941.4L1141.5 938.7L1142.0 943.8L1142.5 942.6L1143.0 948.6L1143.5 952.2L1144.0 950.4L1144.5 951.8L1145.0 955.9L1145.5 953.9L1146.0 956.4L1146.5 959.6L1147.0 960.3L1147.5 964.3L1148.0 965.1L1148.5 968.1L1149.0 965.7L1149.5 969.6L1150.0 967.2L1150.5 972.3L1151.0 975.5L1151.5 978.2L1152.0 972.3L1152.5 975.9L1153.0 979.1L1153.5 977.2L1154.0 981.5L1154.5 982.8L1155.0 982.1L1155.5 983.4L1156.0 984.0L1156.5 987.9L1157.0 991.3L1157.5 990.6L1158.0 997.0L1158.5 989.5L1159.0 992.6L1159.5 996.3L1160.0 993.7L1160.5 997.8L1161.0 999.7L1161.5 999.3L1162.0 999.2L1162.5 1002.3L1163.0 1001.8L1163.5 1003.1L1164.0 1003.3L1164.5 1001.4L1165.0 1001.1L1165.5 1003.1L1166.0 1004.8L1166.5 1004.6L1167.0 1007.5L1167.5 1006.6L1168.0 1008.6L1168.5 1007.3L1169.0 1006.1L1169.5 1009.7L1170.0 1009.5L1170.5 1007.2L1171.0 1008.5L1171.5 1015.5L1172.0 1003.2L1172.5 1012.9L1173.0 1011.0L1173.5 1011.1L1174.0 1011.0L1174.5 1010.9L1175.0 1017.1L1175.5 1011.7L1176.0 1012.2L1176.5 1014.8L1177.0 1014.2L1177.5 1013.3L1178.0 1013.3L1178.5 1011.4L1179.0 1016.5L1179.5 1012.3L1180.0 1009.7L1180.5 1017.0L1181.0 1016.5L1181.5 1015.8L1182.0 1014.2L1182.5 1017.9L1183.0 1013.3L1183.5 1011.1L1184.0 1016.1L1184.5 1017.6L1185.0 1017.3L1185.5 1020.4L1186.0 1018.0L1186.5 1015.9L1187.0 1016.1L1187.5 1018.4L1188.0 1016.6L1188.5 1016.5L1189.0 1013.2L1189.5 1016.3L1190.0 1014.4L1190.5 1017.7L1191.0 1017.5L1191.5 1018.8L1192.0 1021.1L1192.5 1017.1L1193.0 1020.6L1193.5 1015.3L1194.0 1018.1L1194.5 1019.8L1195.0 1022.0L1195.5 1015.7L1196.0 1017.5L1196.5 1018.4L1197.0 1018.0L1197.5 1016.3L1198.0 1014.9L1198.5 1015.9L1199.0 1018.3L1199.5 1015.7L1200.0 1022.3L1200.5 1021.2L1201.0 1014.7L1201.5 1017.7L1202.0 1021.6L1202.5 1021.9L1203.0 1021.3L1203.5 1016.0L1204.0 1018.3L1204.5 1021.8L1205.0 1019.4L1205.5 1018.3L1206.0 1020.3L1206.5 1021.4L1207.0 1019.7L1207.5 1019.9L1208.0 1021.7L1208.5 1018.4L1209.0 1017.7L1209.5 1021.2L1210.0 1017.2L1210.5 1020.8L1211.0 1018.3L1211.5 1021.6L1212.0 1017.4L1212.5 1022.3L1213.0 1020.6L1213.5 1019.4L1214.0 1018.3L1214.5 1019.8L1215.0 1018.3L1215.5 1017.8L1216.0 1022.5L1216.5 1021.6L1217.0 1023.0L1217.5 1017.6L1218.0 1016.5L1218.5 1017.3L1219.0 1021.9L1219.5 1022.3L1220.0 1016.8L1220.5 1022.9L1221.0 1019.9L1221.5 1018.4L1222.0 1020.7L1222.5 1022.1L1223.0 1020.5L1223.5 1020.7L1224.0 1019.3L1224.5 1018.2L1225.0 1020.4L1225.5 1017.8L1226.0 1022.5L1226.5 1019.5L1227.0 1024.0L1227.5 1018.1L1228.0 1024.3L1228.5 1019.6L1229.0 1019.6L1229.5 1022.1L1230.0 1023.4L1230.5 1021.5L1231.0 1020.9L1231.5 1025.8L1232.0 1022.7L1232.5 1019.2L1233.0 1021.2L1233.5 1025.3L1234.0 1022.5L1234.5 1023.6L1235.0 1026.1L1235.5 1020.7L1236.0 1022.7L1236.5 1020.6L1237.0 1022.0L1237.5 1023.1L1238.0 1019.3L1238.5 1022.4L1239.0 1022.4L1239.5 1024.3L1240.0 1020.9L1240.5 1019.5L1241.0 1022.9L1241.5 1019.8L1242.0 1022.5L1242.5 1023.3L1243.0 1020.4L1243.5 1021.9L1244.0 1020.0L1244.5 1016.3L1245.0 1019.2L1245.5 1017.9L1246.0 1022.2L1246.5 1019.9L1247.0 1021.8L1247.5 1022.0L1248.0 1024.2L1248.5 1021.2L1249.0 1021.0L1249.5 1022.8L1250.0 1025.0L1250.5 1021.4L1251.0 1022.1L1251.5 1020.9L1252.0 1019.7L1252.5 1017.8L1253.0 1020.7L1253.5 1020.2L1254.0 1020.0L1254.5 1024.5L1255.0 1019.5L1255.5 1020.7L1256.0 1019.1L1256.5 1022.1L1257.0 1018.8L1257.5 1023.1L1258.0 1018.5L1258.5 1020.4L1259.0 1020.7L1259.5 1017.9L1260.0 1020.0L1260.5 1018.1L1261.0 1016.2L1261.5 1016.2L1262.0 1018.1L1262.5 1020.9L1263.0 1016.0L1263.5 1017.9L1264.0 1014.9L1264.5 1016.9L1265.0 1013.5L1265.5 1014.4L1266.0 1015.9L1266.5 1014.2L1267.0 1015.0L1267.5 1017.5L1268.0 1015.0L1268.5 1013.6L1269.0 1012.5L1269.5 1013.8L1270.0 1017.1L1270.5 1014.5L1271.0 1014.3L1271.5 1016.0L1272.0 1016.2L1272.5 1016.4L1273.0 1013.6L1273.5 1012.4L1274.0 1010.9L1274.5 1012.9L1275.0 1013.5L1275.5 1015.8L1276.0 1015.0L1276.5 1013.3L1277.0 1016.3L1277.5 1012.0L1278.0 1012.5L1278.5 1012.4L1279.0 1012.6L1279.5 1014.5L1280.0 1013.4L1280.5 1013.7L1281.0 1018.2L1281.5 1012.6L1282.0 1013.6L1282.5 1015.4L1283.0 1017.0L1283.5 1017.3L1284.0 1015.9L1284.5 1015.9L1285.0 1016.3L1285.5 1018.6L1286.0 1015.4L1286.5 1012.7L1287.0 1018.1L1287.5 1015.5L1288.0 1018.0L1288.5 1021.1L1289.0 1018.7L1289.5 1022.4L1290.0 1015.6L1290.5 1019.6L1291.0 1020.1L1291.5 1021.2L1292.0 1018.2L1292.5 1020.2L1293.0 1020.2L1293.5 1020.3L1294.0 1017.5L1294.5 1017.0L1295.0 1021.7L1295.5 1021.5L1296.0 1021.0L1296.5 1022.3L1297.0 1023.3L1297.5 1018.8L1298.0 1022.9L1298.5 1024.5L1299.0 1023.6L1299.5 1022.9L1300.0 1023.2L1300.5 1019.0L1301.0 1021.0L1301.5 1024.2L1302.0 1025.3L1302.5 1023.3L1303.0 1021.6L1303.5 1022.3L1304.0 1024.5L1304.5 1027.0L1305.0 1024.6L1305.5 1022.0L1306.0 1024.5L1306.5 1024.2L1307.0 1028.3L1307.5 1024.7L1308.0 1023.7L1308.5 1023.6L1309.0 1021.4L1309.5 1021.8L1310.0 1023.1L1310.5 1022.5L1311.0 1024.6L1311.5 1024.5L1312.0 1026.3L1312.5 1027.6L1313.0 1024.9L1313.5 1024.3L1314.0 1021.0L1314.5 1025.6L1315.0 1026.2L1315.5 1023.4L1316.0 1024.2L1316.5 1023.7L1317.0 1027.3L1317.5 1026.5L1318.0 1027.7L1318.5 1022.8L1319.0 1030.7L1319.5 1023.6L1320.0 1023.3L1320.5 1025.8L1321.0 1024.3L1321.5 1029.1L1322.0 1024.6L1322.5 1024.1L1323.0 1027.5L1323.5 1027.9L1324.0 1023.8L1324.5 1024.5L1325.0 1024.7L1325.5 1025.1L1326.0 1028.9L1326.5 1028.0L1327.0 1027.6L1327.5 1028.0L1328.0 1025.4L1328.5 1027.1L1329.0 1025.2L1329.5 1023.8L1330.0 1028.6L1330.5 1021.7L1331.0 1025.2L1331.5 1024.0L1332.0 1021.8L1332.5 1024.3L1333.0 1025.2L1333.5 1026.0L1334.0 1023.3L1334.5 1026.5L1335.0 1025.5L1335.5 1026.5L1336.0 1020.9L1336.5 1023.9L1337.0 1023.5L1337.5 1025.9L1338.0 1023.2L1338.5 1023.6L1339.0 1022.2L1339.5 1022.1L1340.0 1022.6L1340.5 1026.3L1341.0 1022.2L1341.5 1019.4L1342.0 1024.8L1342.5 1023.2L1343.0 1025.2L1343.5 1025.1L1344.0 1023.3L1344.5 1023.1L1345.0 1022.7L1345.5 1023.8L1346.0 1022.2L1346.5 1024.0L1347.0 1026.4L1347.5 1022.2L1348.0 1022.2L1348.5 1022.1L1349.0 1024.6L1349.5 1024.6L1350.0 1026.1L1350.5 1024.6L1351.0 1023.3L1351.5 1023.9L1352.0 1020.3L1352.5 1024.0L1353.0 1023.1L1353.5 1026.9L1354.0 1025.4L1354.5 1020.9L1355.0 1021.4L1355.5 1024.2L1356.0 1018.2L1356.5 1020.5L1357.0 1023.0L1357.5 1023.4L1358.0 1022.5L1358.5 1024.3L1359.0 1021.4L1359.5 1022.1L1360.0 1021.4L1360.5 1019.5L1361.0 1021.7L1361.5 1020.4L1362.0 1021.6L1362.5 1016.1L1363.0 1021.5L1363.5 1020.1L1364.0 1019.8L1364.5 1021.1L1365.0 1019.9L1365.5 1022.6L1366.0 1023.1L1366.5 1022.3L1367.0 1022.3L1367.5 1021.0L1368.0 1020.2L1368.5 1017.5L1369.0 1019.2L1369.5 1022.2L1370.0 1021.2L1370.5 1018.6L1371.0 1019.6L1371.5 1021.4L1372.0 1018.8L1372.5 1022.2L1373.0 1017.3L1373.5 1020.3L1374.0 1019.9L1374.5 1018.7L1375.0 1018.8L1375.5 1019.1L1376.0 1013.4L1376.5 1018.6L1377.0 1019.8L1377.5 1018.2L1378.0 1019.5L1378.5 1014.6L1379.0 1016.7L1379.5 1017.3L1380.0 1015.9L1380.5 1018.6L1381.0 1017.0L1381.5 1014.8L1382.0 1017.3L1382.5 1017.0L1383.0 1014.3L1383.5 1016.2L1384.0 1015.5L1384.5 1015.2L1385.0 1011.8L1385.5 1016.6L1386.0 1015.0L1386.5 1013.3L1387.0 1013.7L1387.5 1013.2L1388.0 1011.5L1388.5 1010.4L1389.0 1011.2L1389.5 1009.3L1390.0 1009.0L1390.5 1007.0L1391.0 1008.2L1391.5 1010.1L1392.0 1007.9L1392.5 1006.9L1393.0 1005.6L1393.5 1004.7L1394.0 1002.0L1394.5 1007.6L1395.0 1002.3L1395.5 1000.2L1396.0 1003.4L1396.5 1002.6L1397.0 1000.6L1397.5 998.3L1398.0 998.2L1398.5 1002.9L1399.0 999.8L1399.5 998.9L1400.0 1000.9L1400.5 999.0L1401.0 998.9L1401.5 999.0L1402.0 999.0L1402.5 999.3L1403.0 998.6L1403.5 999.6L1404.0 997.8L1404.5 1000.6L1405.0 999.2L1405.5 999.9L1406.0 999.7L1406.5 1003.2L1407.0 1005.3L1407.5 1002.5L1408.0 1002.7L1408.5 1002.8L1409.0 1005.4L1409.5 1002.9L1410.0 1012.6L1410.5 1005.7L1411.0 1010.2L1411.5 1007.7L1412.0 1005.3L1412.5 1005.5L1413.0 1008.3L1413.5 1008.3L1414.0 1009.7L1414.5 1008.4L1415.0 1015.8L1415.5 1015.8L1416.0 1008.3L1416.5 1013.2L1417.0 1014.9L1417.5 1012.1L1418.0 1012.4L1418.5 1015.2L1419.0 1014.1L1419.5 1010.7L1420.0 1015.6L1420.5 1012.3L1421.0 1017.0L1421.5 1011.5L1422.0 1008.9L1422.5 1013.7L1423.0 1015.9L1423.5 1014.6L1424.0 1013.9L1424.5 1011.9L1425.0 1015.5L1425.5 1010.1L1426.0 1015.4L1426.5 1011.4L1427.0 1012.7L1427.5 1011.3L1428.0 1012.1L1428.5 1016.9L1429.0 1011.7L1429.5 1014.4L1430.0 1012.5L1430.5 1016.1L1431.0 1011.4L1431.5 1014.1L1432.0 1015.9L1432.5 1018.7L1433.0 1011.8L1433.5 1012.5L1434.0 1014.1L1434.5 1017.2L1435.0 1012.2L1435.5 1015.9L1436.0 1013.1L1436.5 1012.3L1437.0 1011.2L1437.5 1014.6L1438.0 1016.3L1438.5 1014.2L1439.0 1010.2L1439.5 1013.3L1440.0 1016.4L1440.5 1016.2L1441.0 1015.1L1441.5 1017.5L1442.0 1012.0L1442.5 1012.1L1443.0 1019.4L1443.5 1016.0L1444.0 1014.3L1444.5 1013.7L1445.0 1009.6L1445.5 1016.5L1446.0 1010.7L1446.5 1010.9L1447.0 1014.8L1447.5 1017.9L1448.0 1014.2L1448.5 1015.8L1449.0 1014.2L1449.5 1015.9L1450.0 1011.8L1450.5 1019.4L1451.0 1013.3L1451.5 1016.4L1452.0 1011.3L1452.5 1019.0L1453.0 1016.4L1453.5 1019.6L1454.0 1014.4L1454.5 1017.9L1455.0 1015.6L1455.5 1016.0L1456.0 1018.8L1456.5 1014.5L1457.0 1017.9L1457.5 1020.5L1458.0 1020.2L1458.5 1019.0L1459.0 1017.7L1459.5 1015.3L1460.0 1020.2L1460.5 1016.2L1461.0 1020.1L1461.5 1017.2L1462.0 1018.0L1462.5 1018.2L1463.0 1019.6L1463.5 1017.7L1464.0 1019.1L1464.5 1017.8L1465.0 1020.1L1465.5 1019.8L1466.0 1020.2L1466.5 1017.9L1467.0 1020.4L1467.5 1020.0L1468.0 1021.2L1468.5 1020.3L1469.0 1018.4L1469.5 1021.9L1470.0 1019.3L1470.5 1021.3L1471.0 1016.8L1471.5 1022.0L1472.0 1022.4L1472.5 1019.4L1473.0 1022.5L1473.5 1020.7L1474.0 1024.3L1474.5 1022.9L1475.0 1019.2L1475.5 1021.3L1476.0 1018.3L1476.5 1021.2L1477.0 1022.9L1477.5 1023.5L1478.0 1021.7L1478.5 1021.4L1479.0 1022.2L1479.5 1020.7L1480.0 1022.5L1480.5 1024.1L1481.0 1022.3L1481.5 1023.6L1482.0 1020.3L1482.5 1020.9L1483.0 1022.5L1483.5 1025.8L1484.0 1023.8L1484.5 1025.1L1485.0 1021.8L1485.5 1024.1L1486.0 1018.3L1486.5 1022.6L1487.0 1017.4L1487.5 1024.0L1488.0 1022.4L1488.5 1023.7L1489.0 1022.2L1489.5 1020.4L1490.0 1019.8L1490.5 1021.6L1491.0 1024.1L1491.5 1022.4L1492.0 1020.0L1492.5 1019.9L1493.0 1019.5L1493.5 1020.5L1494.0 1020.6L1494.5 1019.8L1495.0 1020.7L1495.5 1017.5L1496.0 1023.6L1496.5 1020.9L1497.0 1023.4L1497.5 1020.9L1498.0 1019.8L1498.5 1020.3L1499.0 1020.5L1499.5 1018.7L1500.0 1019.2L1500.5 1023.6L1501.0 1021.6L1501.5 1018.7L1502.0 1020.6L1502.5 1017.9L1503.0 1022.2L1503.5 1017.4L1504.0 1021.0L1504.5 1019.2L1505.0 1019.2L1505.5 1017.4L1506.0 1018.4L1506.5 1017.3L1507.0 1017.1L1507.5 1019.6L1508.0 1023.5L1508.5 1017.8L1509.0 1020.3L1509.5 1018.2L1510.0 1016.7L1510.5 1020.6L1511.0 1019.1L1511.5 1020.0L1512.0 1017.8L1512.5 1017.8L1513.0 1015.8L1513.5 1016.7L1514.0 1020.3L1514.5 1012.5L1515.0 1017.5L1515.5 1019.4L1516.0 1018.0L1516.5 1018.0L1517.0 1015.6L1517.5 1018.1L1518.0 1018.0L1518.5 1015.5L1519.0 1018.6L1519.5 1014.2L1520.0 1010.2L1520.5 1014.8L1521.0 1014.4L1521.5 1012.8L1522.0 1013.3L1522.5 1013.0L1523.0 1010.3L1523.5 1016.0L1524.0 1013.4L1524.5 1018.4L1525.0 1012.9L1525.5 1013.5L1526.0 1009.6L1526.5 1014.3L1527.0 1010.0L1527.5 1012.9L1528.0 1013.4L1528.5 1012.9L1529.0 1009.6L1529.5 1009.4L1530.0 1012.2L1530.5 1012.7L1531.0 1012.9L1531.5 1009.7L1532.0 1009.2L1532.5 1012.4L1533.0 1007.4L1533.5 1009.6L1534.0 1007.2L1534.5 1004.6L1535.0 1004.8L1535.5 1007.4L1536.0 1006.6L1536.5 1006.8L1537.0 1004.8L1537.5 1004.3L1538.0 1005.5L1538.5 1004.4L1539.0 1001.5L1539.5 1003.6L1540.0 1007.6L1540.5 1002.9L1541.0 1005.4L1541.5 1004.2L1542.0 1005.8L1542.5 1002.8L1543.0 1002.0L1543.5 1005.4L1544.0 1003.2L1544.5 1004.6L1545.0 1004.1L1545.5 1006.7L1546.0 1005.4L1546.5 1005.3L1547.0 1003.3L1547.5 1002.2L1548.0 1003.8L1548.5 1007.1L1549.0 1006.9L1549.5 1006.8L1550.0 1005.1L1550.5 1004.0L1551.0 1008.3L1551.5 1006.6L1552.0 1007.4L1552.5 1004.7L1553.0 1005.3L1553.5 1008.0L1554.0 1008.3L1554.5 1005.1L1555.0 1007.7L1555.5 1005.0L1556.0 1009.7L1556.5 1008.7L1557.0 1011.9L1557.5 1010.5L1558.0 1006.4L1558.5 1008.2L1559.0 1007.0L1559.5 1008.2L1560.0 1009.5L1560.5 1008.1L1561.0 1008.3L1561.5 1005.7L1562.0 1009.5L1562.5 1008.4L1563.0 1009.7L1563.5 1010.6L1564.0 1008.7L1564.5 1010.1L1565.0 1007.7L1565.5 1010.7L1566.0 1008.9L1566.5 1007.9L1567.0 1008.7L1567.5 1006.5L1568.0 1008.0L1568.5 1008.5L1569.0 1009.5L1569.5 1009.3L1570.0 1008.3L1570.5 1009.3L1571.0 1005.6L1571.5 1009.9L1572.0 1010.9L1572.5 1011.4L1573.0 1012.0L1573.5 1009.7L1574.0 1010.0L1574.5 1009.3L1575.0 1009.3L1575.5 1010.5L1576.0 1012.9L1576.5 1007.2L1577.0 1009.6L1577.5 1011.1L1578.0 1008.7L1578.5 1011.5L1579.0 1008.1L1579.5 1010.1L1580.0 1007.7" fill="none" stroke="#0012a8" stroke-width="4.60" stroke-linejoin="round"/>
<text transform="translate(98.8,870.2) rotate(-90)" style="font-family:'Liberation Sans',Arial,sans-serif;font-size:82px" fill="#000" textLength="517.7" lengthAdjust="spacingAndGlyphs">Intensity (a.u.)</text>
<text x="1304" y="658.4" style="font-family:'Liberation Sans',Arial,sans-serif;font-size:83.6px" fill="#ff0000">RST-P</text>
<text x="1304.3" y="974.1" style="font-family:'Liberation Sans',Arial,sans-serif;font-size:84.8px" fill="#0012a8" textLength="250.3" lengthAdjust="spacingAndGlyphs">RST-C</text>
<text x="248" y="1075.8" style="font-family:'Liberation Sans',Arial,sans-serif;font-size:40px;letter-spacing:1.9px" fill="#000">(110)</text>
<text x="423" y="1116.4" style="font-family:'Liberation Sans',Arial,sans-serif;font-size:42px;letter-spacing:1.4px" fill="#000">(101)</text>
<text x="783.2" y="1120.8" style="font-family:'Liberation Sans',Arial,sans-serif;font-size:42px;letter-spacing:1.9px" fill="#000">(211)</text>
<text x="1152" y="1140" style="font-family:'Liberation Serif','Times New Roman',serif;font-size:46px;font-weight:bold" fill="#000" textLength="402" lengthAdjust="spacingAndGlyphs">Rutile:PDF#76-0323</text>
<text x="146.6" y="1280" text-anchor="middle" style="font-family:'Liberation Sans',Arial,sans-serif;font-size:85px" fill="#000" stroke="#fff" stroke-width="1.2">20</text>
<text x="555.9" y="1280" text-anchor="middle" style="font-family:'Liberation Sans',Arial,sans-serif;font-size:85px" fill="#000" stroke="#fff" stroke-width="1.2">40</text>
<text x="966.1" y="1280" text-anchor="middle" style="font-family:'Liberation Sans',Arial,sans-serif;font-size:85px" fill="#000" stroke="#fff" stroke-width="1.2">60</text>
<text x="1374.9" y="1280" text-anchor="middle" style="font-family:'Liberation Sans',Arial,sans-serif;font-size:85px" fill="#000" stroke="#fff" stroke-width="1.2">80</text>
<text y="1370" style="font-family:'Liberation Serif','Times New Roman',serif;font-size:79px" fill="#000"><tspan x="798.7">2</tspan><tspan x="839.5" y="1371.4">&#952;</tspan><tspan x="898.7" y="1372" style="font-size:81.5px">(&#176;)</tspan></text>
</svg>
</body></html>
